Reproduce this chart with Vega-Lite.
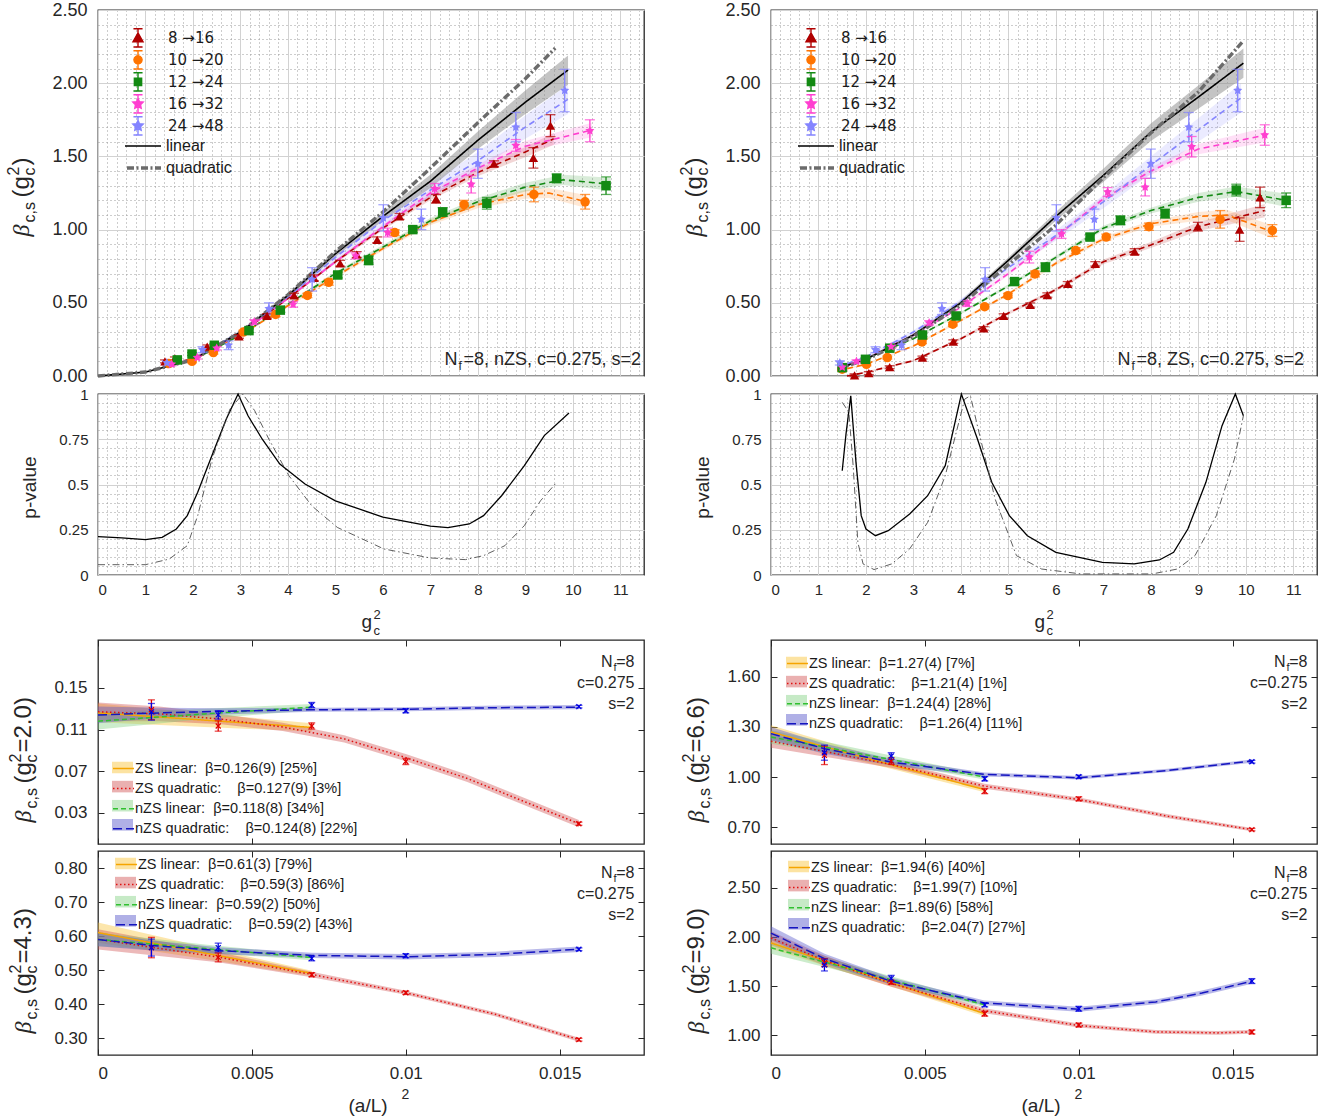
{
  "$schema": "https://vega.github.io/schema/vega-lite/v6.json",
  "padding": {"left": 4, "top": 0, "right": 5, "bottom": 5},
  "background": "white",
  "config": {
    "font": "Liberation Sans",
    "view": {"stroke": "#262626", "strokeWidth": 1.3},
    "axis": {"labelFont": "Liberation Sans", "labelFontSize": 16, "labelColor": "#262626", "titleFont": "Liberation Sans", "titleColor": "#262626", "titleFontWeight": "normal", "domain": false, "ticks": false, "tickSize": 0, "labels": false, "grid": false, "tickColor": "#262626"},
    "legend": {"labelFont": "Liberation Sans", "labelFontSize": 16, "labelColor": "#1a1a1a", "padding": 0, "labelLimit": 400}
  },
  "datasets": {
    "tl_pts": [
      {"s": "8 →16", "x": 1.41, "y": 0.10, "lo": 0.09, "hi": 0.11},
      {"s": "8 →16", "x": 1.62, "y": 0.12, "lo": 0.11, "hi": 0.13},
      {"s": "8 →16", "x": 2.30, "y": 0.20, "lo": 0.188, "hi": 0.212},
      {"s": "8 →16", "x": 2.97, "y": 0.27, "lo": 0.258, "hi": 0.282},
      {"s": "8 →16", "x": 3.56, "y": 0.41, "lo": 0.395, "hi": 0.425},
      {"s": "8 →16", "x": 4.13, "y": 0.55, "lo": 0.535, "hi": 0.565},
      {"s": "8 →16", "x": 4.55, "y": 0.67, "lo": 0.65, "hi": 0.69},
      {"s": "8 →16", "x": 5.10, "y": 0.77, "lo": 0.75, "hi": 0.79},
      {"s": "8 →16", "x": 5.45, "y": 0.83, "lo": 0.81, "hi": 0.85},
      {"s": "8 →16", "x": 5.88, "y": 0.93, "lo": 0.91, "hi": 0.95},
      {"s": "8 →16", "x": 6.35, "y": 1.09, "lo": 1.07, "hi": 1.11},
      {"s": "8 →16", "x": 7.12, "y": 1.21, "lo": 1.18, "hi": 1.24},
      {"s": "8 →16", "x": 8.34, "y": 1.45, "lo": 1.43, "hi": 1.47},
      {"s": "8 →16", "x": 9.17, "y": 1.49, "lo": 1.42, "hi": 1.56},
      {"s": "8 →16", "x": 9.53, "y": 1.71, "lo": 1.635, "hi": 1.785},
      {"s": "10 →20", "x": 1.49, "y": 0.085, "lo": 0.075, "hi": 0.095},
      {"s": "10 →20", "x": 1.98, "y": 0.10, "lo": 0.09, "hi": 0.11},
      {"s": "10 →20", "x": 2.43, "y": 0.16, "lo": 0.15, "hi": 0.17},
      {"s": "10 →20", "x": 3.06, "y": 0.30, "lo": 0.288, "hi": 0.312},
      {"s": "10 →20", "x": 3.74, "y": 0.42, "lo": 0.405, "hi": 0.435},
      {"s": "10 →20", "x": 4.41, "y": 0.55, "lo": 0.535, "hi": 0.565},
      {"s": "10 →20", "x": 4.86, "y": 0.64, "lo": 0.62, "hi": 0.66},
      {"s": "10 →20", "x": 6.25, "y": 0.98, "lo": 0.96, "hi": 1.0},
      {"s": "10 →20", "x": 7.71, "y": 1.17, "lo": 1.14, "hi": 1.2},
      {"s": "10 →20", "x": 9.18, "y": 1.24, "lo": 1.19, "hi": 1.29},
      {"s": "10 →20", "x": 10.26, "y": 1.19, "lo": 1.14, "hi": 1.24},
      {"s": "12 →24", "x": 1.67, "y": 0.11, "lo": 0.10, "hi": 0.12},
      {"s": "12 →24", "x": 1.98, "y": 0.15, "lo": 0.14, "hi": 0.16},
      {"s": "12 →24", "x": 2.45, "y": 0.21, "lo": 0.198, "hi": 0.222},
      {"s": "12 →24", "x": 3.18, "y": 0.31, "lo": 0.298, "hi": 0.322},
      {"s": "12 →24", "x": 3.84, "y": 0.45, "lo": 0.435, "hi": 0.465},
      {"s": "12 →24", "x": 5.05, "y": 0.69, "lo": 0.67, "hi": 0.71},
      {"s": "12 →24", "x": 5.70, "y": 0.79, "lo": 0.76, "hi": 0.82},
      {"s": "12 →24", "x": 6.63, "y": 1.00, "lo": 0.98, "hi": 1.02},
      {"s": "12 →24", "x": 7.26, "y": 1.12, "lo": 1.09, "hi": 1.15},
      {"s": "12 →24", "x": 8.19, "y": 1.18, "lo": 1.14, "hi": 1.22},
      {"s": "12 →24", "x": 9.66, "y": 1.35, "lo": 1.32, "hi": 1.38},
      {"s": "12 →24", "x": 10.70, "y": 1.30, "lo": 1.24, "hi": 1.36},
      {"s": "16 →32", "x": 1.55, "y": 0.08, "lo": 0.07, "hi": 0.09},
      {"s": "16 →32", "x": 2.09, "y": 0.126, "lo": 0.116, "hi": 0.136},
      {"s": "16 →32", "x": 2.50, "y": 0.19, "lo": 0.178, "hi": 0.202},
      {"s": "16 →32", "x": 3.29, "y": 0.37, "lo": 0.355, "hi": 0.385},
      {"s": "16 →32", "x": 4.11, "y": 0.49, "lo": 0.47, "hi": 0.51},
      {"s": "16 →32", "x": 5.43, "y": 0.82, "lo": 0.80, "hi": 0.84},
      {"s": "16 →32", "x": 6.10, "y": 0.98, "lo": 0.95, "hi": 1.01},
      {"s": "16 →32", "x": 7.09, "y": 1.28, "lo": 1.245, "hi": 1.315},
      {"s": "16 →32", "x": 7.86, "y": 1.31, "lo": 1.25, "hi": 1.37},
      {"s": "16 →32", "x": 8.80, "y": 1.575, "lo": 1.535, "hi": 1.615},
      {"s": "16 →32", "x": 10.36, "y": 1.675, "lo": 1.60, "hi": 1.75},
      {"s": "24 →48", "x": 1.45, "y": 0.09, "lo": 0.075, "hi": 0.105},
      {"s": "24 →48", "x": 2.20, "y": 0.18, "lo": 0.16, "hi": 0.20},
      {"s": "24 →48", "x": 2.75, "y": 0.21, "lo": 0.18, "hi": 0.24},
      {"s": "24 →48", "x": 3.60, "y": 0.46, "lo": 0.42, "hi": 0.50},
      {"s": "24 →48", "x": 4.51, "y": 0.66, "lo": 0.58, "hi": 0.74},
      {"s": "24 →48", "x": 6.01, "y": 1.08, "lo": 0.99, "hi": 1.17},
      {"s": "24 →48", "x": 6.81, "y": 1.07, "lo": 1.0, "hi": 1.14},
      {"s": "24 →48", "x": 8.00, "y": 1.45, "lo": 1.35, "hi": 1.55},
      {"s": "24 →48", "x": 8.80, "y": 1.70, "lo": 1.60, "hi": 1.80},
      {"s": "24 →48", "x": 9.83, "y": 1.95, "lo": 1.805, "hi": 2.095}
    ],
    "tl_fit": [
      {"s": "8 →16", "x": 1.4, "y": 0.07, "lo": 0.065, "hi": 0.075},
      {"s": "8 →16", "x": 2, "y": 0.12, "lo": 0.114, "hi": 0.126},
      {"s": "8 →16", "x": 3, "y": 0.29, "lo": 0.282, "hi": 0.298},
      {"s": "8 →16", "x": 4, "y": 0.53, "lo": 0.52, "hi": 0.54},
      {"s": "8 →16", "x": 5, "y": 0.78, "lo": 0.768, "hi": 0.792},
      {"s": "8 →16", "x": 6, "y": 1.01, "lo": 0.995, "hi": 1.025},
      {"s": "8 →16", "x": 7, "y": 1.22, "lo": 1.20, "hi": 1.24},
      {"s": "8 →16", "x": 8, "y": 1.39, "lo": 1.365, "hi": 1.415},
      {"s": "8 →16", "x": 9, "y": 1.53, "lo": 1.495, "hi": 1.565},
      {"s": "8 →16", "x": 9.6, "y": 1.62, "lo": 1.58, "hi": 1.66},
      {"s": "10 →20", "x": 1.5, "y": 0.07, "lo": 0.065, "hi": 0.075},
      {"s": "10 →20", "x": 2, "y": 0.11, "lo": 0.104, "hi": 0.116},
      {"s": "10 →20", "x": 3, "y": 0.28, "lo": 0.272, "hi": 0.288},
      {"s": "10 →20", "x": 4, "y": 0.48, "lo": 0.47, "hi": 0.49},
      {"s": "10 →20", "x": 5, "y": 0.68, "lo": 0.668, "hi": 0.692},
      {"s": "10 →20", "x": 6, "y": 0.87, "lo": 0.855, "hi": 0.885},
      {"s": "10 →20", "x": 7, "y": 1.05, "lo": 1.03, "hi": 1.07},
      {"s": "10 →20", "x": 8, "y": 1.17, "lo": 1.145, "hi": 1.195},
      {"s": "10 →20", "x": 9, "y": 1.24, "lo": 1.21, "hi": 1.27},
      {"s": "10 →20", "x": 9.5, "y": 1.25, "lo": 1.215, "hi": 1.285},
      {"s": "10 →20", "x": 10.3, "y": 1.19, "lo": 1.145, "hi": 1.235},
      {"s": "12 →24", "x": 1.6, "y": 0.08, "lo": 0.075, "hi": 0.085},
      {"s": "12 →24", "x": 2, "y": 0.11, "lo": 0.104, "hi": 0.116},
      {"s": "12 →24", "x": 3, "y": 0.28, "lo": 0.272, "hi": 0.288},
      {"s": "12 →24", "x": 4, "y": 0.49, "lo": 0.48, "hi": 0.50},
      {"s": "12 →24", "x": 5, "y": 0.70, "lo": 0.688, "hi": 0.712},
      {"s": "12 →24", "x": 6, "y": 0.88, "lo": 0.865, "hi": 0.895},
      {"s": "12 →24", "x": 7, "y": 1.06, "lo": 1.04, "hi": 1.08},
      {"s": "12 →24", "x": 8, "y": 1.19, "lo": 1.165, "hi": 1.215},
      {"s": "12 →24", "x": 9, "y": 1.29, "lo": 1.26, "hi": 1.32},
      {"s": "12 →24", "x": 9.8, "y": 1.34, "lo": 1.305, "hi": 1.375},
      {"s": "12 →24", "x": 10.8, "y": 1.31, "lo": 1.265, "hi": 1.355},
      {"s": "16 →32", "x": 1.5, "y": 0.07, "lo": 0.065, "hi": 0.075},
      {"s": "16 →32", "x": 2, "y": 0.115, "lo": 0.109, "hi": 0.121},
      {"s": "16 →32", "x": 3, "y": 0.29, "lo": 0.282, "hi": 0.298},
      {"s": "16 →32", "x": 4, "y": 0.53, "lo": 0.52, "hi": 0.54},
      {"s": "16 →32", "x": 5, "y": 0.78, "lo": 0.768, "hi": 0.792},
      {"s": "16 →32", "x": 6, "y": 1.02, "lo": 1.005, "hi": 1.035},
      {"s": "16 →32", "x": 7, "y": 1.25, "lo": 1.23, "hi": 1.27},
      {"s": "16 →32", "x": 8, "y": 1.42, "lo": 1.395, "hi": 1.445},
      {"s": "16 →32", "x": 9, "y": 1.57, "lo": 1.535, "hi": 1.605},
      {"s": "16 →32", "x": 10.4, "y": 1.68, "lo": 1.63, "hi": 1.73},
      {"s": "24 →48", "x": 1.4, "y": 0.07, "lo": 0.065, "hi": 0.075},
      {"s": "24 →48", "x": 2, "y": 0.115, "lo": 0.107, "hi": 0.123},
      {"s": "24 →48", "x": 3, "y": 0.30, "lo": 0.288, "hi": 0.312},
      {"s": "24 →48", "x": 4, "y": 0.54, "lo": 0.522, "hi": 0.558},
      {"s": "24 →48", "x": 5, "y": 0.81, "lo": 0.785, "hi": 0.835},
      {"s": "24 →48", "x": 6, "y": 1.06, "lo": 1.025, "hi": 1.095},
      {"s": "24 →48", "x": 7, "y": 1.27, "lo": 1.225, "hi": 1.315},
      {"s": "24 →48", "x": 8, "y": 1.47, "lo": 1.41, "hi": 1.53},
      {"s": "24 →48", "x": 9, "y": 1.70, "lo": 1.62, "hi": 1.78},
      {"s": "24 →48", "x": 9.9, "y": 1.89, "lo": 1.79, "hi": 1.99}
    ],
    "tl_cont": [
      {"k": "linear", "x": 0, "y": 0, "lo": 0, "hi": 0},
      {"k": "linear", "x": 1, "y": 0.027, "lo": 0.024, "hi": 0.03},
      {"k": "linear", "x": 2, "y": 0.11, "lo": 0.104, "hi": 0.116},
      {"k": "linear", "x": 3, "y": 0.30, "lo": 0.29, "hi": 0.31},
      {"k": "linear", "x": 4, "y": 0.55, "lo": 0.535, "hi": 0.565},
      {"k": "linear", "x": 5, "y": 0.835, "lo": 0.815, "hi": 0.855},
      {"k": "linear", "x": 6, "y": 1.09, "lo": 1.06, "hi": 1.12},
      {"k": "linear", "x": 7, "y": 1.33, "lo": 1.285, "hi": 1.375},
      {"k": "linear", "x": 8, "y": 1.61, "lo": 1.55, "hi": 1.67},
      {"k": "linear", "x": 9, "y": 1.87, "lo": 1.79, "hi": 1.95},
      {"k": "linear", "x": 9.9, "y": 2.09, "lo": 1.99, "hi": 2.19},
      {"k": "quadratic", "x": 0, "y": 0},
      {"k": "quadratic", "x": 1, "y": 0.027},
      {"k": "quadratic", "x": 2, "y": 0.11},
      {"k": "quadratic", "x": 3, "y": 0.30},
      {"k": "quadratic", "x": 4, "y": 0.555},
      {"k": "quadratic", "x": 5, "y": 0.85},
      {"k": "quadratic", "x": 6, "y": 1.12},
      {"k": "quadratic", "x": 7, "y": 1.42},
      {"k": "quadratic", "x": 8, "y": 1.73},
      {"k": "quadratic", "x": 9, "y": 2.03},
      {"k": "quadratic", "x": 9.63, "y": 2.24}
    ],
    "tr_pts": [
      {"s": "8 →16", "x": 1.76, "y": 0.005, "lo": -0.005, "hi": 0.015},
      {"s": "8 →16", "x": 2.06, "y": 0.02, "lo": 0.01, "hi": 0.03},
      {"s": "8 →16", "x": 2.50, "y": 0.06, "lo": 0.05, "hi": 0.07},
      {"s": "8 →16", "x": 3.19, "y": 0.126, "lo": 0.116, "hi": 0.136},
      {"s": "8 →16", "x": 3.84, "y": 0.235, "lo": 0.223, "hi": 0.247},
      {"s": "8 →16", "x": 4.48, "y": 0.325, "lo": 0.313, "hi": 0.337},
      {"s": "8 →16", "x": 4.90, "y": 0.41, "lo": 0.395, "hi": 0.425},
      {"s": "8 →16", "x": 5.46, "y": 0.485, "lo": 0.47, "hi": 0.50},
      {"s": "8 →16", "x": 5.82, "y": 0.553, "lo": 0.538, "hi": 0.568},
      {"s": "8 →16", "x": 6.25, "y": 0.63, "lo": 0.615, "hi": 0.645},
      {"s": "8 →16", "x": 6.83, "y": 0.766, "lo": 0.751, "hi": 0.781},
      {"s": "8 →16", "x": 7.66, "y": 0.85, "lo": 0.83, "hi": 0.87},
      {"s": "8 →16", "x": 8.99, "y": 1.02, "lo": 0.99, "hi": 1.05},
      {"s": "8 →16", "x": 9.87, "y": 1.00, "lo": 0.92, "hi": 1.08},
      {"s": "8 →16", "x": 10.30, "y": 1.22, "lo": 1.15, "hi": 1.29},
      {"s": "10 →20", "x": 1.50, "y": 0.046, "lo": 0.036, "hi": 0.056},
      {"s": "10 →20", "x": 2.01, "y": 0.08, "lo": 0.07, "hi": 0.09},
      {"s": "10 →20", "x": 2.45, "y": 0.126, "lo": 0.116, "hi": 0.136},
      {"s": "10 →20", "x": 3.18, "y": 0.233, "lo": 0.221, "hi": 0.245},
      {"s": "10 →20", "x": 3.83, "y": 0.354, "lo": 0.342, "hi": 0.366},
      {"s": "10 →20", "x": 4.50, "y": 0.473, "lo": 0.458, "hi": 0.488},
      {"s": "10 →20", "x": 4.99, "y": 0.549, "lo": 0.534, "hi": 0.564},
      {"s": "10 →20", "x": 5.56, "y": 0.697, "lo": 0.677, "hi": 0.717},
      {"s": "10 →20", "x": 6.42, "y": 0.857, "lo": 0.837, "hi": 0.877},
      {"s": "10 →20", "x": 7.06, "y": 0.949, "lo": 0.929, "hi": 0.969},
      {"s": "10 →20", "x": 7.96, "y": 1.02, "lo": 0.995, "hi": 1.045},
      {"s": "10 →20", "x": 9.46, "y": 1.07, "lo": 1.01, "hi": 1.13},
      {"s": "10 →20", "x": 10.56, "y": 0.994, "lo": 0.954, "hi": 1.034},
      {"s": "12 →24", "x": 1.50, "y": 0.057, "lo": 0.047, "hi": 0.067},
      {"s": "12 →24", "x": 1.99, "y": 0.114, "lo": 0.104, "hi": 0.124},
      {"s": "12 →24", "x": 2.50, "y": 0.19, "lo": 0.178, "hi": 0.202},
      {"s": "12 →24", "x": 3.19, "y": 0.28, "lo": 0.268, "hi": 0.292},
      {"s": "12 →24", "x": 3.90, "y": 0.41, "lo": 0.395, "hi": 0.425},
      {"s": "12 →24", "x": 5.13, "y": 0.645, "lo": 0.625, "hi": 0.665},
      {"s": "12 →24", "x": 5.78, "y": 0.743, "lo": 0.713, "hi": 0.773},
      {"s": "12 →24", "x": 6.72, "y": 0.949, "lo": 0.929, "hi": 0.969},
      {"s": "12 →24", "x": 7.36, "y": 1.063, "lo": 1.033, "hi": 1.093},
      {"s": "12 →24", "x": 8.30, "y": 1.109, "lo": 1.079, "hi": 1.139},
      {"s": "12 →24", "x": 9.80, "y": 1.27, "lo": 1.23, "hi": 1.31},
      {"s": "12 →24", "x": 10.85, "y": 1.20, "lo": 1.15, "hi": 1.25},
      {"s": "16 →32", "x": 1.50, "y": 0.06, "lo": 0.05, "hi": 0.07},
      {"s": "16 →32", "x": 1.80, "y": 0.10, "lo": 0.09, "hi": 0.11},
      {"s": "16 →32", "x": 2.53, "y": 0.20, "lo": 0.188, "hi": 0.212},
      {"s": "16 →32", "x": 3.33, "y": 0.363, "lo": 0.348, "hi": 0.378},
      {"s": "16 →32", "x": 4.14, "y": 0.495, "lo": 0.475, "hi": 0.515},
      {"s": "16 →32", "x": 5.44, "y": 0.812, "lo": 0.772, "hi": 0.852},
      {"s": "16 →32", "x": 6.12, "y": 0.97, "lo": 0.94, "hi": 1.0},
      {"s": "16 →32", "x": 7.09, "y": 1.257, "lo": 1.227, "hi": 1.287},
      {"s": "16 →32", "x": 7.88, "y": 1.29, "lo": 1.23, "hi": 1.35},
      {"s": "16 →32", "x": 8.86, "y": 1.566, "lo": 1.496, "hi": 1.636},
      {"s": "16 →32", "x": 10.40, "y": 1.646, "lo": 1.576, "hi": 1.716},
      {"s": "24 →48", "x": 1.45, "y": 0.09, "lo": 0.075, "hi": 0.105},
      {"s": "24 →48", "x": 2.20, "y": 0.18, "lo": 0.16, "hi": 0.20},
      {"s": "24 →48", "x": 2.75, "y": 0.21, "lo": 0.18, "hi": 0.24},
      {"s": "24 →48", "x": 3.60, "y": 0.46, "lo": 0.42, "hi": 0.50},
      {"s": "24 →48", "x": 4.51, "y": 0.66, "lo": 0.58, "hi": 0.74},
      {"s": "24 →48", "x": 6.01, "y": 1.08, "lo": 0.99, "hi": 1.17},
      {"s": "24 →48", "x": 6.81, "y": 1.07, "lo": 1.0, "hi": 1.14},
      {"s": "24 →48", "x": 8.00, "y": 1.45, "lo": 1.35, "hi": 1.55},
      {"s": "24 →48", "x": 8.80, "y": 1.70, "lo": 1.60, "hi": 1.80},
      {"s": "24 →48", "x": 9.83, "y": 1.95, "lo": 1.805, "hi": 2.095}
    ],
    "tr_fit": [
      {"s": "8 →16", "x": 1.6, "y": 0.0, "lo": -0.004, "hi": 0.004},
      {"s": "8 →16", "x": 2, "y": 0.025, "lo": 0.02, "hi": 0.03},
      {"s": "8 →16", "x": 3, "y": 0.105, "lo": 0.098, "hi": 0.112},
      {"s": "8 →16", "x": 4, "y": 0.255, "lo": 0.246, "hi": 0.264},
      {"s": "8 →16", "x": 5, "y": 0.43, "lo": 0.419, "hi": 0.441},
      {"s": "8 →16", "x": 6, "y": 0.59, "lo": 0.577, "hi": 0.603},
      {"s": "8 →16", "x": 7, "y": 0.78, "lo": 0.764, "hi": 0.796},
      {"s": "8 →16", "x": 8, "y": 0.895, "lo": 0.875, "hi": 0.915},
      {"s": "8 →16", "x": 9, "y": 1.02, "lo": 0.99, "hi": 1.05},
      {"s": "8 →16", "x": 10.4, "y": 1.13, "lo": 1.085, "hi": 1.175},
      {"s": "10 →20", "x": 1.4, "y": 0.035, "lo": 0.031, "hi": 0.039},
      {"s": "10 →20", "x": 2, "y": 0.08, "lo": 0.075, "hi": 0.085},
      {"s": "10 →20", "x": 3, "y": 0.205, "lo": 0.198, "hi": 0.212},
      {"s": "10 →20", "x": 4, "y": 0.38, "lo": 0.371, "hi": 0.389},
      {"s": "10 →20", "x": 5, "y": 0.56, "lo": 0.549, "hi": 0.571},
      {"s": "10 →20", "x": 6, "y": 0.77, "lo": 0.757, "hi": 0.783},
      {"s": "10 →20", "x": 7, "y": 0.935, "lo": 0.919, "hi": 0.951},
      {"s": "10 →20", "x": 8, "y": 1.04, "lo": 1.02, "hi": 1.06},
      {"s": "10 →20", "x": 9, "y": 1.09, "lo": 1.06, "hi": 1.12},
      {"s": "10 →20", "x": 9.6, "y": 1.10, "lo": 1.065, "hi": 1.135},
      {"s": "10 →20", "x": 10.6, "y": 0.98, "lo": 0.935, "hi": 1.025},
      {"s": "12 →24", "x": 1.4, "y": 0.05, "lo": 0.046, "hi": 0.054},
      {"s": "12 →24", "x": 2, "y": 0.12, "lo": 0.115, "hi": 0.125},
      {"s": "12 →24", "x": 3, "y": 0.255, "lo": 0.248, "hi": 0.262},
      {"s": "12 →24", "x": 4, "y": 0.43, "lo": 0.421, "hi": 0.439},
      {"s": "12 →24", "x": 5, "y": 0.615, "lo": 0.604, "hi": 0.626},
      {"s": "12 →24", "x": 6, "y": 0.81, "lo": 0.797, "hi": 0.823},
      {"s": "12 →24", "x": 7, "y": 1.01, "lo": 0.994, "hi": 1.026},
      {"s": "12 →24", "x": 8, "y": 1.13, "lo": 1.11, "hi": 1.15},
      {"s": "12 →24", "x": 9, "y": 1.22, "lo": 1.19, "hi": 1.25},
      {"s": "12 →24", "x": 9.8, "y": 1.26, "lo": 1.225, "hi": 1.295},
      {"s": "12 →24", "x": 10.85, "y": 1.20, "lo": 1.155, "hi": 1.245},
      {"s": "16 →32", "x": 1.4, "y": 0.05, "lo": 0.046, "hi": 0.054},
      {"s": "16 →32", "x": 2, "y": 0.12, "lo": 0.114, "hi": 0.126},
      {"s": "16 →32", "x": 3, "y": 0.28, "lo": 0.272, "hi": 0.288},
      {"s": "16 →32", "x": 4, "y": 0.47, "lo": 0.46, "hi": 0.48},
      {"s": "16 →32", "x": 5, "y": 0.70, "lo": 0.687, "hi": 0.713},
      {"s": "16 →32", "x": 6, "y": 0.95, "lo": 0.934, "hi": 0.966},
      {"s": "16 →32", "x": 7, "y": 1.21, "lo": 1.19, "hi": 1.23},
      {"s": "16 →32", "x": 8, "y": 1.40, "lo": 1.375, "hi": 1.425},
      {"s": "16 →32", "x": 9, "y": 1.55, "lo": 1.515, "hi": 1.585},
      {"s": "16 →32", "x": 10.4, "y": 1.645, "lo": 1.595, "hi": 1.695},
      {"s": "24 →48", "x": 1.4, "y": 0.06, "lo": 0.055, "hi": 0.065},
      {"s": "24 →48", "x": 2, "y": 0.13, "lo": 0.122, "hi": 0.138},
      {"s": "24 →48", "x": 3, "y": 0.30, "lo": 0.288, "hi": 0.312},
      {"s": "24 →48", "x": 4, "y": 0.51, "lo": 0.492, "hi": 0.528},
      {"s": "24 →48", "x": 5, "y": 0.74, "lo": 0.715, "hi": 0.765},
      {"s": "24 →48", "x": 6, "y": 0.96, "lo": 0.925, "hi": 0.995},
      {"s": "24 →48", "x": 7, "y": 1.19, "lo": 1.145, "hi": 1.235},
      {"s": "24 →48", "x": 8, "y": 1.44, "lo": 1.38, "hi": 1.50},
      {"s": "24 →48", "x": 9, "y": 1.68, "lo": 1.60, "hi": 1.76},
      {"s": "24 →48", "x": 9.9, "y": 1.90, "lo": 1.80, "hi": 2.0}
    ],
    "tr_cont": [
      {"k": "linear", "x": 1.4, "y": 0.05, "lo": 0.046, "hi": 0.054},
      {"k": "linear", "x": 2, "y": 0.115, "lo": 0.109, "hi": 0.121},
      {"k": "linear", "x": 3, "y": 0.28, "lo": 0.27, "hi": 0.29},
      {"k": "linear", "x": 4, "y": 0.50, "lo": 0.485, "hi": 0.515},
      {"k": "linear", "x": 5, "y": 0.79, "lo": 0.77, "hi": 0.81},
      {"k": "linear", "x": 6, "y": 1.09, "lo": 1.06, "hi": 1.12},
      {"k": "linear", "x": 7, "y": 1.37, "lo": 1.325, "hi": 1.415},
      {"k": "linear", "x": 8, "y": 1.665, "lo": 1.605, "hi": 1.725},
      {"k": "linear", "x": 9, "y": 1.905, "lo": 1.825, "hi": 1.985},
      {"k": "linear", "x": 9.95, "y": 2.137, "lo": 2.037, "hi": 2.237},
      {"k": "quadratic", "x": 1.4, "y": 0.05},
      {"k": "quadratic", "x": 2, "y": 0.11},
      {"k": "quadratic", "x": 3, "y": 0.27},
      {"k": "quadratic", "x": 4, "y": 0.485},
      {"k": "quadratic", "x": 5, "y": 0.76},
      {"k": "quadratic", "x": 6, "y": 1.03},
      {"k": "quadratic", "x": 7, "y": 1.355},
      {"k": "quadratic", "x": 8, "y": 1.66},
      {"k": "quadratic", "x": 9, "y": 1.94},
      {"k": "quadratic", "x": 9.95, "y": 2.29}
    ],
    "pl": [
      {"k": "linear", "x": 0, "p": 0.212}, {"k": "linear", "x": 0.5, "p": 0.205}, {"k": "linear", "x": 1, "p": 0.195},
      {"k": "linear", "x": 1.35, "p": 0.208}, {"k": "linear", "x": 1.65, "p": 0.254}, {"k": "linear", "x": 1.88, "p": 0.328},
      {"k": "linear", "x": 2.1, "p": 0.457}, {"k": "linear", "x": 2.4, "p": 0.66}, {"k": "linear", "x": 2.7, "p": 0.86},
      {"k": "linear", "x": 2.95, "p": 1.0}, {"k": "linear", "x": 3.16, "p": 0.88}, {"k": "linear", "x": 3.46, "p": 0.75},
      {"k": "linear", "x": 3.83, "p": 0.613}, {"k": "linear", "x": 4.36, "p": 0.503}, {"k": "linear", "x": 5, "p": 0.41},
      {"k": "linear", "x": 6, "p": 0.32}, {"k": "linear", "x": 7, "p": 0.27}, {"k": "linear", "x": 7.37, "p": 0.262},
      {"k": "linear", "x": 7.82, "p": 0.282}, {"k": "linear", "x": 8.12, "p": 0.328}, {"k": "linear", "x": 8.5, "p": 0.438},
      {"k": "linear", "x": 8.98, "p": 0.604}, {"k": "linear", "x": 9.4, "p": 0.77}, {"k": "linear", "x": 9.92, "p": 0.895},
      {"k": "quadratic", "x": 0, "p": 0.057}, {"k": "quadratic", "x": 1, "p": 0.057}, {"k": "quadratic", "x": 1.5, "p": 0.088},
      {"k": "quadratic", "x": 1.88, "p": 0.162}, {"k": "quadratic", "x": 2.1, "p": 0.328}, {"k": "quadratic", "x": 2.4, "p": 0.64},
      {"k": "quadratic", "x": 2.78, "p": 0.917}, {"k": "quadratic", "x": 3.05, "p": 1.0}, {"k": "quadratic", "x": 3.3, "p": 0.908},
      {"k": "quadratic", "x": 3.6, "p": 0.75}, {"k": "quadratic", "x": 4.02, "p": 0.549}, {"k": "quadratic", "x": 4.5, "p": 0.383},
      {"k": "quadratic", "x": 5.04, "p": 0.263}, {"k": "quadratic", "x": 6.02, "p": 0.144}, {"k": "quadratic", "x": 7, "p": 0.094},
      {"k": "quadratic", "x": 7.74, "p": 0.085}, {"k": "quadratic", "x": 8.12, "p": 0.107}, {"k": "quadratic", "x": 8.57, "p": 0.162},
      {"k": "quadratic", "x": 8.98, "p": 0.273}, {"k": "quadratic", "x": 9.32, "p": 0.41}, {"k": "quadratic", "x": 9.66, "p": 0.512}
    ],
    "pr": [
      {"k": "linear", "x": 1.5, "p": 0.576}, {"k": "linear", "x": 1.58, "p": 0.78}, {"k": "linear", "x": 1.68, "p": 0.99},
      {"k": "linear", "x": 1.79, "p": 0.622}, {"k": "linear", "x": 1.9, "p": 0.328}, {"k": "linear", "x": 2.0, "p": 0.254},
      {"k": "linear", "x": 2.2, "p": 0.217}, {"k": "linear", "x": 2.47, "p": 0.245}, {"k": "linear", "x": 2.92, "p": 0.337},
      {"k": "linear", "x": 3.3, "p": 0.438}, {"k": "linear", "x": 3.67, "p": 0.604}, {"k": "linear", "x": 4.01, "p": 1.0},
      {"k": "linear", "x": 4.35, "p": 0.75}, {"k": "linear", "x": 4.65, "p": 0.512}, {"k": "linear", "x": 5.02, "p": 0.328},
      {"k": "linear", "x": 5.4, "p": 0.217}, {"k": "linear", "x": 6.0, "p": 0.125}, {"k": "linear", "x": 6.98, "p": 0.07},
      {"k": "linear", "x": 7.65, "p": 0.061}, {"k": "linear", "x": 8.18, "p": 0.083}, {"k": "linear", "x": 8.48, "p": 0.125},
      {"k": "linear", "x": 8.78, "p": 0.254}, {"k": "linear", "x": 9.16, "p": 0.512}, {"k": "linear", "x": 9.5, "p": 0.825},
      {"k": "linear", "x": 9.78, "p": 1.0}, {"k": "linear", "x": 9.95, "p": 0.88},
      {"k": "quadratic", "x": 1.5, "p": 0.954}, {"k": "quadratic", "x": 1.64, "p": 0.9}, {"k": "quadratic", "x": 1.73, "p": 0.604},
      {"k": "quadratic", "x": 1.83, "p": 0.18}, {"k": "quadratic", "x": 1.94, "p": 0.061}, {"k": "quadratic", "x": 2.17, "p": 0.03},
      {"k": "quadratic", "x": 2.54, "p": 0.061}, {"k": "quadratic", "x": 2.92, "p": 0.144}, {"k": "quadratic", "x": 3.3, "p": 0.291},
      {"k": "quadratic", "x": 3.67, "p": 0.549}, {"k": "quadratic", "x": 4.08, "p": 0.972}, {"k": "quadratic", "x": 4.2, "p": 0.99},
      {"k": "quadratic", "x": 4.38, "p": 0.788}, {"k": "quadratic", "x": 4.72, "p": 0.42}, {"k": "quadratic", "x": 5.17, "p": 0.107},
      {"k": "quadratic", "x": 5.7, "p": 0.033}, {"k": "quadratic", "x": 6.53, "p": 0.006}, {"k": "quadratic", "x": 8.03, "p": 0.006},
      {"k": "quadratic", "x": 8.56, "p": 0.033}, {"k": "quadratic", "x": 8.93, "p": 0.107}, {"k": "quadratic", "x": 9.38, "p": 0.328},
      {"k": "quadratic", "x": 9.76, "p": 0.64}, {"k": "quadratic", "x": 9.95, "p": 0.88}
    ],
    "b20_pts": [
      {"f": "ZS", "x": 0.001736, "y": 0.129, "lo": 0.1195, "hi": 0.1385},
      {"f": "ZS", "x": 0.003906, "y": 0.1134, "lo": 0.1084, "hi": 0.1184},
      {"f": "ZS", "x": 0.006944, "y": 0.1134, "lo": 0.1104, "hi": 0.1164},
      {"f": "ZS", "x": 0.01, "y": 0.0793, "lo": 0.0763, "hi": 0.0823},
      {"f": "ZS", "x": 0.015625, "y": 0.0195, "lo": 0.018, "hi": 0.021},
      {"f": "nZS", "x": 0.001736, "y": 0.127, "lo": 0.119, "hi": 0.135},
      {"f": "nZS", "x": 0.003906, "y": 0.124, "lo": 0.12, "hi": 0.128},
      {"f": "nZS", "x": 0.006944, "y": 0.1335, "lo": 0.131, "hi": 0.136},
      {"f": "nZS", "x": 0.01, "y": 0.128, "lo": 0.126, "hi": 0.13},
      {"f": "nZS", "x": 0.015625, "y": 0.132, "lo": 0.1308, "hi": 0.1332}
    ],
    "b20_fit": [
      {"f": "ZS linear:\u00a0 β=0.126(9) [25%]", "x": 0, "y": 0.126, "lo": 0.117, "hi": 0.135},
      {"f": "ZS linear:\u00a0 β=0.126(9) [25%]", "x": 0.00347, "y": 0.119, "lo": 0.1125, "hi": 0.1255},
      {"f": "ZS linear:\u00a0 β=0.126(9) [25%]", "x": 0.006944, "y": 0.112, "lo": 0.108, "hi": 0.116},
      {"f": "ZS quadratic:\u00a0\u00a0\u00a0 β=0.127(9) [3%]", "x": 0, "y": 0.127, "lo": 0.118, "hi": 0.136},
      {"f": "ZS quadratic:\u00a0\u00a0\u00a0 β=0.127(9) [3%]", "x": 0.002, "y": 0.125, "lo": 0.118, "hi": 0.132},
      {"f": "ZS quadratic:\u00a0\u00a0\u00a0 β=0.127(9) [3%]", "x": 0.004, "y": 0.12, "lo": 0.115, "hi": 0.125},
      {"f": "ZS quadratic:\u00a0\u00a0\u00a0 β=0.127(9) [3%]", "x": 0.006, "y": 0.1125, "lo": 0.1085, "hi": 0.1165},
      {"f": "ZS quadratic:\u00a0\u00a0\u00a0 β=0.127(9) [3%]", "x": 0.008, "y": 0.101, "lo": 0.0975, "hi": 0.1045},
      {"f": "ZS quadratic:\u00a0\u00a0\u00a0 β=0.127(9) [3%]", "x": 0.01, "y": 0.083, "lo": 0.0795, "hi": 0.0865},
      {"f": "ZS quadratic:\u00a0\u00a0\u00a0 β=0.127(9) [3%]", "x": 0.012, "y": 0.063, "lo": 0.0595, "hi": 0.0665},
      {"f": "ZS quadratic:\u00a0\u00a0\u00a0 β=0.127(9) [3%]", "x": 0.014, "y": 0.039, "lo": 0.0355, "hi": 0.0425},
      {"f": "ZS quadratic:\u00a0\u00a0\u00a0 β=0.127(9) [3%]", "x": 0.015625, "y": 0.0195, "lo": 0.016, "hi": 0.023},
      {"f": "nZS linear:\u00a0 β=0.118(8) [34%]", "x": 0, "y": 0.118, "lo": 0.11, "hi": 0.126},
      {"f": "nZS linear:\u00a0 β=0.118(8) [34%]", "x": 0.00347, "y": 0.125, "lo": 0.12, "hi": 0.13},
      {"f": "nZS linear:\u00a0 β=0.118(8) [34%]", "x": 0.006944, "y": 0.1315, "lo": 0.1285, "hi": 0.1345},
      {"f": "nZS quadratic:\u00a0\u00a0\u00a0 β=0.124(8) [22%]", "x": 0, "y": 0.124, "lo": 0.116, "hi": 0.132},
      {"f": "nZS quadratic:\u00a0\u00a0\u00a0 β=0.124(8) [22%]", "x": 0.002, "y": 0.126, "lo": 0.121, "hi": 0.131},
      {"f": "nZS quadratic:\u00a0\u00a0\u00a0 β=0.124(8) [22%]", "x": 0.004, "y": 0.1275, "lo": 0.1245, "hi": 0.1305},
      {"f": "nZS quadratic:\u00a0\u00a0\u00a0 β=0.124(8) [22%]", "x": 0.007, "y": 0.129, "lo": 0.127, "hi": 0.131},
      {"f": "nZS quadratic:\u00a0\u00a0\u00a0 β=0.124(8) [22%]", "x": 0.01, "y": 0.1295, "lo": 0.1275, "hi": 0.1315},
      {"f": "nZS quadratic:\u00a0\u00a0\u00a0 β=0.124(8) [22%]", "x": 0.013, "y": 0.131, "lo": 0.129, "hi": 0.133},
      {"f": "nZS quadratic:\u00a0\u00a0\u00a0 β=0.124(8) [22%]", "x": 0.015625, "y": 0.1315, "lo": 0.1295, "hi": 0.1335}
    ],
    "b66_pts": [
      {"f": "ZS", "x": 0.001736, "y": 1.13, "lo": 1.075, "hi": 1.185},
      {"f": "ZS", "x": 0.003906, "y": 1.096, "lo": 1.076, "hi": 1.116},
      {"f": "ZS", "x": 0.006944, "y": 0.916, "lo": 0.901, "hi": 0.931},
      {"f": "ZS", "x": 0.01, "y": 0.87, "lo": 0.858, "hi": 0.882},
      {"f": "ZS", "x": 0.015625, "y": 0.686, "lo": 0.679, "hi": 0.693},
      {"f": "nZS", "x": 0.001736, "y": 1.146, "lo": 1.101, "hi": 1.191},
      {"f": "nZS", "x": 0.003906, "y": 1.126, "lo": 1.106, "hi": 1.146},
      {"f": "nZS", "x": 0.006944, "y": 0.99, "lo": 0.977, "hi": 1.003},
      {"f": "nZS", "x": 0.01, "y": 1.002, "lo": 0.992, "hi": 1.012},
      {"f": "nZS", "x": 0.015625, "y": 1.092, "lo": 1.084, "hi": 1.1}
    ],
    "b66_fit": [
      {"f": "ZS linear:\u00a0 β=1.27(4) [7%]", "x": 0, "y": 1.27, "lo": 1.23, "hi": 1.31},
      {"f": "ZS linear:\u00a0 β=1.27(4) [7%]", "x": 0.00347, "y": 1.095, "lo": 1.07, "hi": 1.12},
      {"f": "ZS linear:\u00a0 β=1.27(4) [7%]", "x": 0.006944, "y": 0.925, "lo": 0.91, "hi": 0.94},
      {"f": "ZS quadratic:\u00a0\u00a0\u00a0 β=1.21(4) [1%]", "x": 0, "y": 1.215, "lo": 1.175, "hi": 1.255},
      {"f": "ZS quadratic:\u00a0\u00a0\u00a0 β=1.21(4) [1%]", "x": 0.0039, "y": 1.076, "lo": 1.056, "hi": 1.096},
      {"f": "ZS quadratic:\u00a0\u00a0\u00a0 β=1.21(4) [1%]", "x": 0.00694, "y": 0.946, "lo": 0.931, "hi": 0.961},
      {"f": "ZS quadratic:\u00a0\u00a0\u00a0 β=1.21(4) [1%]", "x": 0.01, "y": 0.866, "lo": 0.854, "hi": 0.878},
      {"f": "ZS quadratic:\u00a0\u00a0\u00a0 β=1.21(4) [1%]", "x": 0.0129, "y": 0.766, "lo": 0.754, "hi": 0.778},
      {"f": "ZS quadratic:\u00a0\u00a0\u00a0 β=1.21(4) [1%]", "x": 0.015625, "y": 0.686, "lo": 0.676, "hi": 0.696},
      {"f": "nZS linear:\u00a0 β=1.24(4) [28%]", "x": 0, "y": 1.24, "lo": 1.2, "hi": 1.28},
      {"f": "nZS linear:\u00a0 β=1.24(4) [28%]", "x": 0.00347, "y": 1.12, "lo": 1.095, "hi": 1.145},
      {"f": "nZS linear:\u00a0 β=1.24(4) [28%]", "x": 0.006944, "y": 1.0, "lo": 0.985, "hi": 1.015},
      {"f": "nZS quadratic:\u00a0\u00a0\u00a0 β=1.26(4) [11%]", "x": 0, "y": 1.26, "lo": 1.22, "hi": 1.3},
      {"f": "nZS quadratic:\u00a0\u00a0\u00a0 β=1.26(4) [11%]", "x": 0.00174, "y": 1.17, "lo": 1.14, "hi": 1.2},
      {"f": "nZS quadratic:\u00a0\u00a0\u00a0 β=1.26(4) [11%]", "x": 0.0039, "y": 1.09, "lo": 1.07, "hi": 1.11},
      {"f": "nZS quadratic:\u00a0\u00a0\u00a0 β=1.26(4) [11%]", "x": 0.00694, "y": 1.016, "lo": 1.004, "hi": 1.028},
      {"f": "nZS quadratic:\u00a0\u00a0\u00a0 β=1.26(4) [11%]", "x": 0.01, "y": 0.996, "lo": 0.986, "hi": 1.006},
      {"f": "nZS quadratic:\u00a0\u00a0\u00a0 β=1.26(4) [11%]", "x": 0.0129, "y": 1.04, "lo": 1.03, "hi": 1.05},
      {"f": "nZS quadratic:\u00a0\u00a0\u00a0 β=1.26(4) [11%]", "x": 0.015625, "y": 1.096, "lo": 1.086, "hi": 1.106}
    ],
    "b43_pts": [
      {"f": "ZS", "x": 0.001736, "y": 0.566, "lo": 0.536, "hi": 0.596},
      {"f": "ZS", "x": 0.003906, "y": 0.537, "lo": 0.524, "hi": 0.55},
      {"f": "ZS", "x": 0.006944, "y": 0.486, "lo": 0.48, "hi": 0.492},
      {"f": "ZS", "x": 0.01, "y": 0.433, "lo": 0.428, "hi": 0.438},
      {"f": "ZS", "x": 0.015625, "y": 0.295, "lo": 0.291, "hi": 0.299},
      {"f": "nZS", "x": 0.001736, "y": 0.566, "lo": 0.541, "hi": 0.591},
      {"f": "nZS", "x": 0.003906, "y": 0.566, "lo": 0.553, "hi": 0.579},
      {"f": "nZS", "x": 0.006944, "y": 0.534, "lo": 0.527, "hi": 0.541},
      {"f": "nZS", "x": 0.01, "y": 0.542, "lo": 0.536, "hi": 0.548},
      {"f": "nZS", "x": 0.015625, "y": 0.561, "lo": 0.557, "hi": 0.565}
    ],
    "b43_fit": [
      {"f": "ZS linear:\u00a0 β=0.61(3) [79%]", "x": 0, "y": 0.61, "lo": 0.58, "hi": 0.64},
      {"f": "ZS linear:\u00a0 β=0.61(3) [79%]", "x": 0.00347, "y": 0.55, "lo": 0.532, "hi": 0.568},
      {"f": "ZS linear:\u00a0 β=0.61(3) [79%]", "x": 0.006944, "y": 0.49, "lo": 0.482, "hi": 0.498},
      {"f": "ZS quadratic:\u00a0\u00a0\u00a0 β=0.59(3) [86%]", "x": 0, "y": 0.59, "lo": 0.56, "hi": 0.62},
      {"f": "ZS quadratic:\u00a0\u00a0\u00a0 β=0.59(3) [86%]", "x": 0.0039, "y": 0.538, "lo": 0.523, "hi": 0.553},
      {"f": "ZS quadratic:\u00a0\u00a0\u00a0 β=0.59(3) [86%]", "x": 0.00694, "y": 0.487, "lo": 0.479, "hi": 0.495},
      {"f": "ZS quadratic:\u00a0\u00a0\u00a0 β=0.59(3) [86%]", "x": 0.01, "y": 0.433, "lo": 0.427, "hi": 0.439},
      {"f": "ZS quadratic:\u00a0\u00a0\u00a0 β=0.59(3) [86%]", "x": 0.0129, "y": 0.37, "lo": 0.364, "hi": 0.376},
      {"f": "ZS quadratic:\u00a0\u00a0\u00a0 β=0.59(3) [86%]", "x": 0.015625, "y": 0.295, "lo": 0.289, "hi": 0.301},
      {"f": "nZS linear:\u00a0 β=0.59(2) [50%]", "x": 0, "y": 0.59, "lo": 0.57, "hi": 0.61},
      {"f": "nZS linear:\u00a0 β=0.59(2) [50%]", "x": 0.00347, "y": 0.563, "lo": 0.551, "hi": 0.575},
      {"f": "nZS linear:\u00a0 β=0.59(2) [50%]", "x": 0.006944, "y": 0.537, "lo": 0.529, "hi": 0.545},
      {"f": "nZS quadratic:\u00a0\u00a0\u00a0 β=0.59(2) [43%]", "x": 0, "y": 0.59, "lo": 0.57, "hi": 0.61},
      {"f": "nZS quadratic:\u00a0\u00a0\u00a0 β=0.59(2) [43%]", "x": 0.00174, "y": 0.572, "lo": 0.557, "hi": 0.587},
      {"f": "nZS quadratic:\u00a0\u00a0\u00a0 β=0.59(2) [43%]", "x": 0.0039, "y": 0.557, "lo": 0.547, "hi": 0.567},
      {"f": "nZS quadratic:\u00a0\u00a0\u00a0 β=0.59(2) [43%]", "x": 0.00694, "y": 0.543, "lo": 0.535, "hi": 0.551},
      {"f": "nZS quadratic:\u00a0\u00a0\u00a0 β=0.59(2) [43%]", "x": 0.01, "y": 0.539, "lo": 0.531, "hi": 0.547},
      {"f": "nZS quadratic:\u00a0\u00a0\u00a0 β=0.59(2) [43%]", "x": 0.0129, "y": 0.546, "lo": 0.538, "hi": 0.554},
      {"f": "nZS quadratic:\u00a0\u00a0\u00a0 β=0.59(2) [43%]", "x": 0.015625, "y": 0.561, "lo": 0.553, "hi": 0.569}
    ],
    "b90_pts": [
      {"f": "ZS", "x": 0.001736, "y": 1.74, "lo": 1.70, "hi": 1.78},
      {"f": "ZS", "x": 0.003906, "y": 1.54, "lo": 1.52, "hi": 1.56},
      {"f": "ZS", "x": 0.006944, "y": 1.22, "lo": 1.195, "hi": 1.245},
      {"f": "ZS", "x": 0.01, "y": 1.105, "lo": 1.085, "hi": 1.125},
      {"f": "ZS", "x": 0.015625, "y": 1.034, "lo": 1.014, "hi": 1.054},
      {"f": "nZS", "x": 0.001736, "y": 1.715, "lo": 1.655, "hi": 1.775},
      {"f": "nZS", "x": 0.003906, "y": 1.58, "lo": 1.55, "hi": 1.61},
      {"f": "nZS", "x": 0.006944, "y": 1.31, "lo": 1.29, "hi": 1.33},
      {"f": "nZS", "x": 0.01, "y": 1.27, "lo": 1.245, "hi": 1.295},
      {"f": "nZS", "x": 0.015625, "y": 1.552, "lo": 1.527, "hi": 1.577}
    ],
    "b90_fit": [
      {"f": "ZS linear:\u00a0 β=1.94(6) [40%]", "x": 0, "y": 1.94, "lo": 1.88, "hi": 2.0},
      {"f": "ZS linear:\u00a0 β=1.94(6) [40%]", "x": 0.00347, "y": 1.58, "lo": 1.54, "hi": 1.62},
      {"f": "ZS linear:\u00a0 β=1.94(6) [40%]", "x": 0.006944, "y": 1.22, "lo": 1.195, "hi": 1.245},
      {"f": "ZS quadratic:\u00a0\u00a0\u00a0 β=1.99(7) [10%]", "x": 0, "y": 1.99, "lo": 1.92, "hi": 2.06},
      {"f": "ZS quadratic:\u00a0\u00a0\u00a0 β=1.99(7) [10%]", "x": 0.00174, "y": 1.76, "lo": 1.71, "hi": 1.81},
      {"f": "ZS quadratic:\u00a0\u00a0\u00a0 β=1.99(7) [10%]", "x": 0.0039, "y": 1.53, "lo": 1.495, "hi": 1.565},
      {"f": "ZS quadratic:\u00a0\u00a0\u00a0 β=1.99(7) [10%]", "x": 0.00694, "y": 1.25, "lo": 1.225, "hi": 1.275},
      {"f": "ZS quadratic:\u00a0\u00a0\u00a0 β=1.99(7) [10%]", "x": 0.01, "y": 1.1, "lo": 1.08, "hi": 1.12},
      {"f": "ZS quadratic:\u00a0\u00a0\u00a0 β=1.99(7) [10%]", "x": 0.0125, "y": 1.035, "lo": 1.015, "hi": 1.055},
      {"f": "ZS quadratic:\u00a0\u00a0\u00a0 β=1.99(7) [10%]", "x": 0.0145, "y": 1.025, "lo": 1.005, "hi": 1.045},
      {"f": "ZS quadratic:\u00a0\u00a0\u00a0 β=1.99(7) [10%]", "x": 0.015625, "y": 1.035, "lo": 1.015, "hi": 1.055},
      {"f": "nZS linear:\u00a0 β=1.89(6) [58%]", "x": 0, "y": 1.89, "lo": 1.83, "hi": 1.95},
      {"f": "nZS linear:\u00a0 β=1.89(6) [58%]", "x": 0.00347, "y": 1.6, "lo": 1.56, "hi": 1.64},
      {"f": "nZS linear:\u00a0 β=1.89(6) [58%]", "x": 0.006944, "y": 1.31, "lo": 1.285, "hi": 1.335},
      {"f": "nZS quadratic:\u00a0\u00a0\u00a0 β=2.04(7) [27%]", "x": 0, "y": 2.04, "lo": 1.97, "hi": 2.11},
      {"f": "nZS quadratic:\u00a0\u00a0\u00a0 β=2.04(7) [27%]", "x": 0.00174, "y": 1.78, "lo": 1.73, "hi": 1.83},
      {"f": "nZS quadratic:\u00a0\u00a0\u00a0 β=2.04(7) [27%]", "x": 0.0039, "y": 1.55, "lo": 1.515, "hi": 1.585},
      {"f": "nZS quadratic:\u00a0\u00a0\u00a0 β=2.04(7) [27%]", "x": 0.00694, "y": 1.33, "lo": 1.305, "hi": 1.355},
      {"f": "nZS quadratic:\u00a0\u00a0\u00a0 β=2.04(7) [27%]", "x": 0.01, "y": 1.265, "lo": 1.24, "hi": 1.29},
      {"f": "nZS quadratic:\u00a0\u00a0\u00a0 β=2.04(7) [27%]", "x": 0.0125, "y": 1.34, "lo": 1.315, "hi": 1.365},
      {"f": "nZS quadratic:\u00a0\u00a0\u00a0 β=2.04(7) [27%]", "x": 0.014, "y": 1.43, "lo": 1.405, "hi": 1.455},
      {"f": "nZS quadratic:\u00a0\u00a0\u00a0 β=2.04(7) [27%]", "x": 0.015625, "y": 1.55, "lo": 1.525, "hi": 1.575}
    ]
  },
  "spacing": 0,
  "resolve": {"scale": {"x": "independent", "y": "independent", "color": "independent", "fill": "independent", "stroke": "independent", "strokeDash": "independent", "strokeWidth": "independent", "shape": "independent"}},
  "vconcat": [
    {
      "spacing": 0,
      "resolve": {"scale": {"x": "independent", "y": "independent", "color": "independent", "fill": "independent", "stroke": "independent", "strokeDash": "independent", "strokeWidth": "independent", "shape": "independent"}},
      "vconcat": [
        {
          "bounds": "flush",
          "spacing": 127,
          "resolve": {"scale": {"x": "independent", "y": "independent", "color": "independent", "fill": "independent", "stroke": "independent", "strokeDash": "independent", "strokeWidth": "independent", "shape": "independent"}},
          "hconcat": [
            {
              "width": 546, "height": 366,
              "resolve": {"scale": {"color": "independent", "fill": "independent", "stroke": "independent", "strokeDash": "independent", "strokeWidth": "independent", "shape": "independent"}, "axis": {"x": "independent", "y": "independent"}},
              "layer": [
                {"data": {"name": "tl_fit"}, "mark": {"type": "area", "opacity": 0.16},
                 "encoding": {
                  "x": {"field": "x", "type": "quantitative", "scale": {"domain": [0, 11.5], "nice": false, "zero": false}, "axis": {"orient": "bottom", "values": [0,1,2,3,4,5,6,7,8,9,10,11], "grid": true, "gridColor": "#d2d2d2", "title": null}},
                  "y": {"field": "lo", "type": "quantitative", "scale": {"domain": [0, 2.5], "nice": false}, "axis": {"orient": "left", "values": [0,0.5,1,1.5,2,2.5], "format": ".2f", "labels": true, "labelFontSize": 18, "labelPadding": 11, "grid": true, "gridColor": "#d2d2d2", "title": "β", "titleFont": "Liberation Serif", "titleFontStyle": "italic", "titleFontSize": 24, "titleX": -70, "titleY": 226, "titleAngle": -90, "titleAlign": "left", "titleBaseline": "alphabetic"}},
                  "y2": {"field": "hi"},
                  "color": {"field": "s", "type": "nominal", "scale": {"domain": ["8 →16","10 →20","12 →24","16 →32","24 →48"], "range": ["#b00000","#ff7400","#138a13","#ff3fd0","#8484ff"]}, "legend": null}}},
                {"data": {"name": "tl_cont"}, "transform": [{"filter": "datum.k == 'linear'"}], "mark": {"type": "area", "color": "#8a8a8a", "opacity": 0.5},
                 "encoding": {
                  "x": {"field": "x", "type": "quantitative", "scale": {"domain": [0, 11.5], "nice": false, "zero": false}, "axis": {"orient": "bottom", "values": [0.2,0.4,0.6,0.8,1.2,1.4,1.6,1.8,2.2,2.4,2.6,2.8,3.2,3.4,3.6,3.8,4.2,4.4,4.6,4.8,5.2,5.4,5.6,5.8,6.2,6.4,6.6,6.8,7.2,7.4,7.6,7.8,8.2,8.4,8.6,8.8,9.2,9.4,9.6,9.8,10.2,10.4,10.6,10.8,11.2,11.4], "grid": true, "gridDash": [1, 3], "gridColor": "#9a9a9a", "title": null}},
                  "y": {"field": "lo", "type": "quantitative", "scale": {"domain": [0, 2.5], "nice": false}, "axis": {"orient": "left", "values": [0.1,0.2,0.3,0.4,0.6,0.7,0.8,0.9,1.1,1.2,1.3,1.4,1.6,1.7,1.8,1.9,2.1,2.2,2.3,2.4], "grid": true, "gridDash": [1, 3], "gridColor": "#9a9a9a", "title": null}},
                  "y2": {"field": "hi"}}},
                {"data": {"name": "tl_fit"}, "mark": {"type": "line", "strokeDash": [6, 4], "strokeWidth": 1.6},
                 "encoding": {
                  "x": {"field": "x", "type": "quantitative", "scale": {"domain": [0, 11.5], "nice": false, "zero": false}, "axis": {"orient": "bottom", "title": "N", "titleFontSize": 18, "titleX": 346, "titleY": -12, "titleAngle": 0, "titleAlign": "left", "titleBaseline": "alphabetic"}},
                  "y": {"field": "y", "type": "quantitative", "scale": {"domain": [0, 2.5], "nice": false}, "axis": {"orient": "left", "title": "c,s", "titleFontSize": 16, "titleX": -64, "titleY": 212, "titleAngle": -90, "titleAlign": "left", "titleBaseline": "alphabetic"}},
                  "color": {"field": "s", "type": "nominal", "scale": {"domain": ["8 →16","10 →20","12 →24","16 →32","24 →48"], "range": ["#b00000","#ff7400","#138a13","#ff3fd0","#8484ff"]}, "legend": null}}},
                {"data": {"name": "tl_cont"}, "mark": {"type": "line"},
                 "encoding": {
                  "x": {"field": "x", "type": "quantitative", "scale": {"domain": [0, 11.5], "nice": false, "zero": false}, "axis": {"orient": "bottom", "title": "f", "titleFontSize": 12, "titleX": 360, "titleY": -7, "titleAngle": 0, "titleAlign": "left", "titleBaseline": "alphabetic"}},
                  "y": {"field": "y", "type": "quantitative", "scale": {"domain": [0, 2.5], "nice": false}, "axis": {"orient": "left", "title": "(g", "titleFontSize": 24, "titleX": -70, "titleY": 187, "titleAngle": -90, "titleAlign": "left", "titleBaseline": "alphabetic"}},
                  "stroke": {"field": "k", "type": "nominal", "scale": {"domain": ["linear", "quadratic"], "range": ["#000000", "#6b6b6b"]}, "legend": {"orient": "none", "legendX": 27, "legendY": 125, "symbolType": "M-2.4,0H2.4", "symbolSize": 400, "labelOffset": 17, "clipHeight": 22, "rowPadding": 0, "title": null}},
                  "strokeDash": {"field": "k", "type": "nominal", "scale": {"domain": ["linear", "quadratic"], "range": [[1, 0], [7, 2.5, 2, 2.5]]}},
                  "strokeWidth": {"field": "k", "type": "nominal", "scale": {"domain": ["linear", "quadratic"], "range": [1.6, 3.4]}}}},
                {"data": {"name": "tl_pts"}, "mark": {"type": "rule", "strokeWidth": 1.3},
                 "encoding": {
                  "x": {"field": "x", "type": "quantitative", "scale": {"domain": [0, 11.5], "nice": false, "zero": false}, "axis": {"orient": "bottom", "title": "=8, nZS, c=0.275, s=2", "titleFontSize": 18, "titleX": 365, "titleY": -12, "titleAngle": 0, "titleAlign": "left", "titleBaseline": "alphabetic"}},
                  "y": {"field": "lo", "type": "quantitative", "scale": {"domain": [0, 2.5], "nice": false}, "axis": {"orient": "left", "title": "2", "titleFontSize": 16, "titleX": -80, "titleY": 165, "titleAngle": -90, "titleAlign": "left", "titleBaseline": "alphabetic"}},
                  "y2": {"field": "hi"},
                  "color": {"field": "s", "type": "nominal", "scale": {"domain": ["8 →16","10 →20","12 →24","16 →32","24 →48"], "range": ["#b00000","#ff7400","#138a13","#ff3fd0","#8484ff"]}, "legend": null}}},
                {"data": {"name": "tl_pts"}, "mark": {"type": "tick", "orient": "horizontal", "size": 10, "thickness": 1.3},
                 "encoding": {
                  "x": {"field": "x", "type": "quantitative", "scale": {"domain": [0, 11.5], "nice": false, "zero": false}, "axis": null},
                  "y": {"field": "lo", "type": "quantitative", "scale": {"domain": [0, 2.5], "nice": false}, "axis": {"orient": "left", "title": "c", "titleFontSize": 16, "titleX": -64, "titleY": 165, "titleAngle": -90, "titleAlign": "left", "titleBaseline": "alphabetic"}},
                  "color": {"field": "s", "type": "nominal", "scale": {"domain": ["8 →16","10 →20","12 →24","16 →32","24 →48"], "range": ["#b00000","#ff7400","#138a13","#ff3fd0","#8484ff"]}, "legend": null}}},
                {"data": {"name": "tl_pts"}, "mark": {"type": "tick", "orient": "horizontal", "size": 10, "thickness": 1.3},
                 "encoding": {
                  "x": {"field": "x", "type": "quantitative", "scale": {"domain": [0, 11.5], "nice": false, "zero": false}, "axis": null},
                  "y": {"field": "hi", "type": "quantitative", "scale": {"domain": [0, 2.5], "nice": false}, "axis": {"orient": "left", "title": ")", "titleFontSize": 24, "titleX": -70, "titleY": 155, "titleAngle": -90, "titleAlign": "left", "titleBaseline": "alphabetic"}},
                  "color": {"field": "s", "type": "nominal", "scale": {"domain": ["8 →16","10 →20","12 →24","16 →32","24 →48"], "range": ["#b00000","#ff7400","#138a13","#ff3fd0","#8484ff"]}, "legend": null}}},
                {"data": {"name": "tl_pts"}, "mark": {"type": "point", "filled": true, "opacity": 1, "size": 90},
                 "encoding": {
                  "x": {"field": "x", "type": "quantitative", "scale": {"domain": [0, 11.5], "nice": false, "zero": false}, "axis": null},
                  "y": {"field": "y", "type": "quantitative", "scale": {"domain": [0, 2.5], "nice": false}, "axis": {"orient": "left", "title": "\u00a0", "titleFontSize": 10, "titleX": -93, "titleY": 180, "titleAngle": 0, "titleAlign": "left", "titleBaseline": "alphabetic"}},
                  "color": {"field": "s", "type": "nominal", "scale": {"domain": ["8 →16","10 →20","12 →24","16 →32","24 →48"], "range": ["#b00000","#ff7400","#138a13","#ff3fd0","#8484ff"]}, "legend": null},
                  "shape": {"field": "s", "type": "nominal", "scale": {"domain": ["8 →16","10 →20","12 →24","16 →32","24 →48"], "range": ["triangle-up", "circle", "square", "M0,-1L0.2939,-0.4045L0.9511,-0.309L0.4755,0.1545L0.5878,0.809L0,0.5L-0.5878,0.809L-0.4755,0.1545L-0.9511,-0.309L-0.2939,-0.4045Z", "M0,-1L0.2939,-0.4045L0.9511,-0.309L0.4755,0.1545L0.5878,0.809L0,0.5L-0.5878,0.809L-0.4755,0.1545L-0.9511,-0.309L-0.2939,-0.4045Z"]}, "legend": null}}},
                {"data": {"name": "tl_pts"}, "transform": [{"filter": "false"}], "mark": {"type": "point", "filled": true},
                 "encoding": {
                  "x": {"field": "x", "type": "quantitative", "scale": {"domain": [0, 11.5], "nice": false, "zero": false}, "axis": null},
                  "y": {"field": "y", "type": "quantitative", "scale": {"domain": [0, 2.5], "nice": false}, "axis": null},
                  "fill": {"field": "s", "type": "nominal", "scale": {"domain": ["8 →16","10 →20","12 →24","16 →32","24 →48"], "range": ["#b00000","#ff7400","#138a13","#ff3fd0","#8484ff"]}, "legend": {"orient": "none", "legendX": 32, "legendY": 17, "symbolSize": 196, "symbolOpacity": 1, "symbolStrokeWidth": 1.4, "labelFont": "DejaVu Sans", "labelFontSize": 15, "labelOffset": 22, "clipHeight": 21.7, "rowPadding": 0, "title": null}},
                  "stroke": {"field": "s", "type": "nominal", "scale": {"domain": ["8 →16","10 →20","12 →24","16 →32","24 →48"], "range": ["#b00000","#ff7400","#138a13","#ff3fd0","#8484ff"]}, "legend": {"orient": "none", "legendX": 32, "legendY": 17, "symbolSize": 196, "symbolOpacity": 1, "symbolStrokeWidth": 1.4, "labelFont": "DejaVu Sans", "labelFontSize": 15, "labelOffset": 22, "clipHeight": 21.7, "rowPadding": 0, "title": null}},
                  "shape": {"field": "s", "type": "nominal", "scale": {"domain": ["8 →16","10 →20","12 →24","16 →32","24 →48"], "range": ["M0,-0.72L0.72,0.55L-0.72,0.55Z M0,-1.3V1.3 M-0.65,-1.3H0.65 M-0.65,1.3H0.65", "M0.585,0L0.507,0.293L0.293,0.507L0,0.585L-0.293,0.507L-0.507,0.293L-0.585,0L-0.507,-0.293L-0.293,-0.507L0,-0.585L0.293,-0.507L0.507,-0.293Z M0,-1.3V1.3 M-0.65,-1.3H0.65 M-0.65,1.3H0.65", "M-0.52,-0.52H0.52V0.52H-0.52Z M0,-1.3V1.3 M-0.65,-1.3H0.65 M-0.65,1.3H0.65", "M0,-0.78L0.22,-0.31L0.74,-0.25L0.36,0.12L0.455,0.62L0,0.39L-0.455,0.62L-0.36,0.12L-0.74,-0.25L-0.22,-0.31Z M0,-1.3V1.3 M-0.65,-1.3H0.65 M-0.65,1.3H0.65", "M0,-0.78L0.22,-0.31L0.74,-0.25L0.36,0.12L0.455,0.62L0,0.39L-0.455,0.62L-0.36,0.12L-0.74,-0.25L-0.22,-0.31Z M0,-1.3V1.3 M-0.65,-1.3H0.65 M-0.65,1.3H0.65"]}, "legend": {"orient": "none", "legendX": 32, "legendY": 17, "symbolSize": 196, "symbolOpacity": 1, "symbolStrokeWidth": 1.4, "labelFont": "DejaVu Sans", "labelFontSize": 15, "labelOffset": 22, "clipHeight": 21.7, "rowPadding": 0, "title": null}}}}
              ]
            },
            {
              "width": 546, "height": 366,
              "resolve": {"scale": {"color": "independent", "fill": "independent", "stroke": "independent", "strokeDash": "independent", "strokeWidth": "independent", "shape": "independent"}, "axis": {"x": "independent", "y": "independent"}},
              "layer": [
                {"data": {"name": "tr_fit"}, "mark": {"type": "area", "opacity": 0.16},
                 "encoding": {
                  "x": {"field": "x", "type": "quantitative", "scale": {"domain": [0, 11.5], "nice": false, "zero": false}, "axis": {"orient": "bottom", "values": [0,1,2,3,4,5,6,7,8,9,10,11], "grid": true, "gridColor": "#d2d2d2", "title": null}},
                  "y": {"field": "lo", "type": "quantitative", "scale": {"domain": [0, 2.5], "nice": false}, "axis": {"orient": "left", "values": [0,0.5,1,1.5,2,2.5], "format": ".2f", "labels": true, "labelFontSize": 18, "labelPadding": 11, "grid": true, "gridColor": "#d2d2d2", "title": "β", "titleFont": "Liberation Serif", "titleFontStyle": "italic", "titleFontSize": 24, "titleX": -70, "titleY": 226, "titleAngle": -90, "titleAlign": "left", "titleBaseline": "alphabetic"}},
                  "y2": {"field": "hi"},
                  "color": {"field": "s", "type": "nominal", "scale": {"domain": ["8 →16","10 →20","12 →24","16 →32","24 →48"], "range": ["#b00000","#ff7400","#138a13","#ff3fd0","#8484ff"]}, "legend": null}}},
                {"data": {"name": "tr_cont"}, "transform": [{"filter": "datum.k == 'linear'"}], "mark": {"type": "area", "color": "#8a8a8a", "opacity": 0.5},
                 "encoding": {
                  "x": {"field": "x", "type": "quantitative", "scale": {"domain": [0, 11.5], "nice": false, "zero": false}, "axis": {"orient": "bottom", "values": [0.2,0.4,0.6,0.8,1.2,1.4,1.6,1.8,2.2,2.4,2.6,2.8,3.2,3.4,3.6,3.8,4.2,4.4,4.6,4.8,5.2,5.4,5.6,5.8,6.2,6.4,6.6,6.8,7.2,7.4,7.6,7.8,8.2,8.4,8.6,8.8,9.2,9.4,9.6,9.8,10.2,10.4,10.6,10.8,11.2,11.4], "grid": true, "gridDash": [1, 3], "gridColor": "#9a9a9a", "title": null}},
                  "y": {"field": "lo", "type": "quantitative", "scale": {"domain": [0, 2.5], "nice": false}, "axis": {"orient": "left", "values": [0.1,0.2,0.3,0.4,0.6,0.7,0.8,0.9,1.1,1.2,1.3,1.4,1.6,1.7,1.8,1.9,2.1,2.2,2.3,2.4], "grid": true, "gridDash": [1, 3], "gridColor": "#9a9a9a", "title": null}},
                  "y2": {"field": "hi"}}},
                {"data": {"name": "tr_fit"}, "mark": {"type": "line", "strokeDash": [6, 4], "strokeWidth": 1.6},
                 "encoding": {
                  "x": {"field": "x", "type": "quantitative", "scale": {"domain": [0, 11.5], "nice": false, "zero": false}, "axis": {"orient": "bottom", "title": "N", "titleFontSize": 18, "titleX": 346, "titleY": -12, "titleAngle": 0, "titleAlign": "left", "titleBaseline": "alphabetic"}},
                  "y": {"field": "y", "type": "quantitative", "scale": {"domain": [0, 2.5], "nice": false}, "axis": {"orient": "left", "title": "c,s", "titleFontSize": 16, "titleX": -64, "titleY": 212, "titleAngle": -90, "titleAlign": "left", "titleBaseline": "alphabetic"}},
                  "color": {"field": "s", "type": "nominal", "scale": {"domain": ["8 →16","10 →20","12 →24","16 →32","24 →48"], "range": ["#b00000","#ff7400","#138a13","#ff3fd0","#8484ff"]}, "legend": null}}},
                {"data": {"name": "tr_cont"}, "mark": {"type": "line"},
                 "encoding": {
                  "x": {"field": "x", "type": "quantitative", "scale": {"domain": [0, 11.5], "nice": false, "zero": false}, "axis": {"orient": "bottom", "title": "f", "titleFontSize": 12, "titleX": 360, "titleY": -7, "titleAngle": 0, "titleAlign": "left", "titleBaseline": "alphabetic"}},
                  "y": {"field": "y", "type": "quantitative", "scale": {"domain": [0, 2.5], "nice": false}, "axis": {"orient": "left", "title": "(g", "titleFontSize": 24, "titleX": -70, "titleY": 187, "titleAngle": -90, "titleAlign": "left", "titleBaseline": "alphabetic"}},
                  "stroke": {"field": "k", "type": "nominal", "scale": {"domain": ["linear", "quadratic"], "range": ["#000000", "#6b6b6b"]}, "legend": {"orient": "none", "legendX": 27, "legendY": 125, "symbolType": "M-2.4,0H2.4", "symbolSize": 400, "labelOffset": 17, "clipHeight": 22, "rowPadding": 0, "title": null}},
                  "strokeDash": {"field": "k", "type": "nominal", "scale": {"domain": ["linear", "quadratic"], "range": [[1, 0], [7, 2.5, 2, 2.5]]}},
                  "strokeWidth": {"field": "k", "type": "nominal", "scale": {"domain": ["linear", "quadratic"], "range": [1.6, 3.4]}}}},
                {"data": {"name": "tr_pts"}, "mark": {"type": "rule", "strokeWidth": 1.3},
                 "encoding": {
                  "x": {"field": "x", "type": "quantitative", "scale": {"domain": [0, 11.5], "nice": false, "zero": false}, "axis": {"orient": "bottom", "title": "=8, ZS, c=0.275, s=2", "titleFontSize": 18, "titleX": 365, "titleY": -12, "titleAngle": 0, "titleAlign": "left", "titleBaseline": "alphabetic"}},
                  "y": {"field": "lo", "type": "quantitative", "scale": {"domain": [0, 2.5], "nice": false}, "axis": {"orient": "left", "title": "2", "titleFontSize": 16, "titleX": -80, "titleY": 165, "titleAngle": -90, "titleAlign": "left", "titleBaseline": "alphabetic"}},
                  "y2": {"field": "hi"},
                  "color": {"field": "s", "type": "nominal", "scale": {"domain": ["8 →16","10 →20","12 →24","16 →32","24 →48"], "range": ["#b00000","#ff7400","#138a13","#ff3fd0","#8484ff"]}, "legend": null}}},
                {"data": {"name": "tr_pts"}, "mark": {"type": "tick", "orient": "horizontal", "size": 10, "thickness": 1.3},
                 "encoding": {
                  "x": {"field": "x", "type": "quantitative", "scale": {"domain": [0, 11.5], "nice": false, "zero": false}, "axis": null},
                  "y": {"field": "lo", "type": "quantitative", "scale": {"domain": [0, 2.5], "nice": false}, "axis": {"orient": "left", "title": "c", "titleFontSize": 16, "titleX": -64, "titleY": 165, "titleAngle": -90, "titleAlign": "left", "titleBaseline": "alphabetic"}},
                  "color": {"field": "s", "type": "nominal", "scale": {"domain": ["8 →16","10 →20","12 →24","16 →32","24 →48"], "range": ["#b00000","#ff7400","#138a13","#ff3fd0","#8484ff"]}, "legend": null}}},
                {"data": {"name": "tr_pts"}, "mark": {"type": "tick", "orient": "horizontal", "size": 10, "thickness": 1.3},
                 "encoding": {
                  "x": {"field": "x", "type": "quantitative", "scale": {"domain": [0, 11.5], "nice": false, "zero": false}, "axis": null},
                  "y": {"field": "hi", "type": "quantitative", "scale": {"domain": [0, 2.5], "nice": false}, "axis": {"orient": "left", "title": ")", "titleFontSize": 24, "titleX": -70, "titleY": 155, "titleAngle": -90, "titleAlign": "left", "titleBaseline": "alphabetic"}},
                  "color": {"field": "s", "type": "nominal", "scale": {"domain": ["8 →16","10 →20","12 →24","16 →32","24 →48"], "range": ["#b00000","#ff7400","#138a13","#ff3fd0","#8484ff"]}, "legend": null}}},
                {"data": {"name": "tr_pts"}, "mark": {"type": "point", "filled": true, "opacity": 1, "size": 90},
                 "encoding": {
                  "x": {"field": "x", "type": "quantitative", "scale": {"domain": [0, 11.5], "nice": false, "zero": false}, "axis": null},
                  "y": {"field": "y", "type": "quantitative", "scale": {"domain": [0, 2.5], "nice": false}, "axis": null},
                  "color": {"field": "s", "type": "nominal", "scale": {"domain": ["8 →16","10 →20","12 →24","16 →32","24 →48"], "range": ["#b00000","#ff7400","#138a13","#ff3fd0","#8484ff"]}, "legend": null},
                  "shape": {"field": "s", "type": "nominal", "scale": {"domain": ["8 →16","10 →20","12 →24","16 →32","24 →48"], "range": ["triangle-up", "circle", "square", "M0,-1L0.2939,-0.4045L0.9511,-0.309L0.4755,0.1545L0.5878,0.809L0,0.5L-0.5878,0.809L-0.4755,0.1545L-0.9511,-0.309L-0.2939,-0.4045Z", "M0,-1L0.2939,-0.4045L0.9511,-0.309L0.4755,0.1545L0.5878,0.809L0,0.5L-0.5878,0.809L-0.4755,0.1545L-0.9511,-0.309L-0.2939,-0.4045Z"]}, "legend": null}}},
                {"data": {"name": "tr_pts"}, "transform": [{"filter": "false"}], "mark": {"type": "point", "filled": true},
                 "encoding": {
                  "x": {"field": "x", "type": "quantitative", "scale": {"domain": [0, 11.5], "nice": false, "zero": false}, "axis": null},
                  "y": {"field": "y", "type": "quantitative", "scale": {"domain": [0, 2.5], "nice": false}, "axis": null},
                  "fill": {"field": "s", "type": "nominal", "scale": {"domain": ["8 →16","10 →20","12 →24","16 →32","24 →48"], "range": ["#b00000","#ff7400","#138a13","#ff3fd0","#8484ff"]}, "legend": {"orient": "none", "legendX": 32, "legendY": 17, "symbolSize": 196, "symbolOpacity": 1, "symbolStrokeWidth": 1.4, "labelFont": "DejaVu Sans", "labelFontSize": 15, "labelOffset": 22, "clipHeight": 21.7, "rowPadding": 0, "title": null}},
                  "stroke": {"field": "s", "type": "nominal", "scale": {"domain": ["8 →16","10 →20","12 →24","16 →32","24 →48"], "range": ["#b00000","#ff7400","#138a13","#ff3fd0","#8484ff"]}, "legend": {"orient": "none", "legendX": 32, "legendY": 17, "symbolSize": 196, "symbolOpacity": 1, "symbolStrokeWidth": 1.4, "labelFont": "DejaVu Sans", "labelFontSize": 15, "labelOffset": 22, "clipHeight": 21.7, "rowPadding": 0, "title": null}},
                  "shape": {"field": "s", "type": "nominal", "scale": {"domain": ["8 →16","10 →20","12 →24","16 →32","24 →48"], "range": ["M0,-0.72L0.72,0.55L-0.72,0.55Z M0,-1.3V1.3 M-0.65,-1.3H0.65 M-0.65,1.3H0.65", "M0.585,0L0.507,0.293L0.293,0.507L0,0.585L-0.293,0.507L-0.507,0.293L-0.585,0L-0.507,-0.293L-0.293,-0.507L0,-0.585L0.293,-0.507L0.507,-0.293Z M0,-1.3V1.3 M-0.65,-1.3H0.65 M-0.65,1.3H0.65", "M-0.52,-0.52H0.52V0.52H-0.52Z M0,-1.3V1.3 M-0.65,-1.3H0.65 M-0.65,1.3H0.65", "M0,-0.78L0.22,-0.31L0.74,-0.25L0.36,0.12L0.455,0.62L0,0.39L-0.455,0.62L-0.36,0.12L-0.74,-0.25L-0.22,-0.31Z M0,-1.3V1.3 M-0.65,-1.3H0.65 M-0.65,1.3H0.65", "M0,-0.78L0.22,-0.31L0.74,-0.25L0.36,0.12L0.455,0.62L0,0.39L-0.455,0.62L-0.36,0.12L-0.74,-0.25L-0.22,-0.31Z M0,-1.3V1.3 M-0.65,-1.3H0.65 M-0.65,1.3H0.65"]}, "legend": {"orient": "none", "legendX": 32, "legendY": 17, "symbolSize": 196, "symbolOpacity": 1, "symbolStrokeWidth": 1.4, "labelFont": "DejaVu Sans", "labelFontSize": 15, "labelOffset": 22, "clipHeight": 21.7, "rowPadding": 0, "title": null}}}}
              ]
            }
          ]
        },
        {
          "bounds": "flush",
          "spacing": 127,
          "resolve": {"scale": {"x": "independent", "y": "independent", "color": "independent", "fill": "independent", "stroke": "independent", "strokeDash": "independent", "strokeWidth": "independent", "shape": "independent"}},
          "hconcat": [
            {
              "width": 546, "height": 181,
              "resolve": {"axis": {"x": "independent", "y": "independent"}},
              "layer": [
                {"data": {"name": "pl"}, "transform": [{"filter": "datum.k == 'linear'"}], "mark": {"type": "line", "color": "#000000", "strokeWidth": 1.3},
                 "encoding": {
                  "x": {"field": "x", "type": "quantitative", "scale": {"domain": [0, 11.5], "nice": false, "zero": false}, "axis": {"orient": "bottom", "values": [0,1,2,3,4,5,6,7,8,9,10,11], "labels": true, "labelFontSize": 15, "labelPadding": 7, "grid": true, "gridColor": "#d2d2d2", "title": null}},
                  "y": {"field": "p", "type": "quantitative", "scale": {"domain": [0, 1], "nice": false}, "axis": {"orient": "left", "values": [0, 0.25, 0.5, 0.75, 1], "format": ".2~f", "labels": true, "labelFontSize": 15, "labelPadding": 10, "grid": true, "gridColor": "#d2d2d2", "title": "p-value", "titleFontSize": 19, "titleX": -63, "titleY": 93, "titleAngle": -90, "titleAlign": "center", "titleBaseline": "alphabetic"}}}},
                {"data": {"name": "pl"}, "transform": [{"filter": "datum.k == 'quadratic'"}], "mark": {"type": "line", "color": "#4d4d4d", "strokeWidth": 0.9, "strokeDash": [7, 3, 1.5, 3]},
                 "encoding": {
                  "x": {"field": "x", "type": "quantitative", "scale": {"domain": [0, 11.5], "nice": false, "zero": false}, "axis": {"orient": "bottom", "values": [0.2,0.4,0.6,0.8,1.2,1.4,1.6,1.8,2.2,2.4,2.6,2.8,3.2,3.4,3.6,3.8,4.2,4.4,4.6,4.8,5.2,5.4,5.6,5.8,6.2,6.4,6.6,6.8,7.2,7.4,7.6,7.8,8.2,8.4,8.6,8.8,9.2,9.4,9.6,9.8,10.2,10.4,10.6,10.8,11.2,11.4], "grid": true, "gridDash": [1, 3], "gridColor": "#9a9a9a", "title": null}},
                  "y": {"field": "p", "type": "quantitative", "scale": {"domain": [0, 1], "nice": false}, "axis": {"orient": "left", "values": [0.05,0.1,0.15,0.2,0.3,0.35,0.4,0.45,0.55,0.6,0.65,0.7,0.8,0.85,0.9,0.95], "grid": true, "gridDash": [1, 3], "gridColor": "#9a9a9a", "title": null}}}},
                {"data": {"name": "pl"}, "mark": {"type": "point", "opacity": 0},
                 "encoding": {
                  "x": {"field": "x", "type": "quantitative", "scale": {"domain": [0, 11.5], "nice": false, "zero": false}, "axis": {"orient": "bottom", "title": "g", "titleFontSize": 19, "titleX": 263, "titleY": 52, "titleAngle": 0, "titleAlign": "left", "titleBaseline": "alphabetic"}},
                  "y": {"field": "p", "type": "quantitative", "scale": {"domain": [0, 1], "nice": false}, "axis": {"orient": "left", "title": "\u00a0", "titleFontSize": 10, "titleX": -93, "titleY": 90, "titleAngle": 0, "titleAlign": "left", "titleBaseline": "alphabetic"}}}},
                {"data": {"name": "pl"}, "mark": {"type": "point", "opacity": 0},
                 "encoding": {
                  "x": {"field": "x", "type": "quantitative", "scale": {"domain": [0, 11.5], "nice": false, "zero": false}, "axis": {"orient": "bottom", "title": "2", "titleFontSize": 13, "titleX": 275, "titleY": 43, "titleAngle": 0, "titleAlign": "left", "titleBaseline": "alphabetic"}},
                  "y": {"field": "p", "type": "quantitative", "scale": {"domain": [0, 1], "nice": false}, "axis": null}}},
                {"data": {"name": "pl"}, "mark": {"type": "point", "opacity": 0},
                 "encoding": {
                  "x": {"field": "x", "type": "quantitative", "scale": {"domain": [0, 11.5], "nice": false, "zero": false}, "axis": {"orient": "bottom", "title": "c", "titleFontSize": 13, "titleX": 275, "titleY": 59, "titleAngle": 0, "titleAlign": "left", "titleBaseline": "alphabetic"}},
                  "y": {"field": "p", "type": "quantitative", "scale": {"domain": [0, 1], "nice": false}, "axis": null}}}
              ]
            },
            {
              "width": 546, "height": 181,
              "resolve": {"axis": {"x": "independent", "y": "independent"}},
              "layer": [
                {"data": {"name": "pr"}, "transform": [{"filter": "datum.k == 'linear'"}], "mark": {"type": "line", "color": "#000000", "strokeWidth": 1.3},
                 "encoding": {
                  "x": {"field": "x", "type": "quantitative", "scale": {"domain": [0, 11.5], "nice": false, "zero": false}, "axis": {"orient": "bottom", "values": [0,1,2,3,4,5,6,7,8,9,10,11], "labels": true, "labelFontSize": 15, "labelPadding": 7, "grid": true, "gridColor": "#d2d2d2", "title": null}},
                  "y": {"field": "p", "type": "quantitative", "scale": {"domain": [0, 1], "nice": false}, "axis": {"orient": "left", "values": [0, 0.25, 0.5, 0.75, 1], "format": ".2~f", "labels": true, "labelFontSize": 15, "labelPadding": 10, "grid": true, "gridColor": "#d2d2d2", "title": "p-value", "titleFontSize": 19, "titleX": -63, "titleY": 93, "titleAngle": -90, "titleAlign": "center", "titleBaseline": "alphabetic"}}}},
                {"data": {"name": "pr"}, "transform": [{"filter": "datum.k == 'quadratic'"}], "mark": {"type": "line", "color": "#4d4d4d", "strokeWidth": 0.9, "strokeDash": [7, 3, 1.5, 3]},
                 "encoding": {
                  "x": {"field": "x", "type": "quantitative", "scale": {"domain": [0, 11.5], "nice": false, "zero": false}, "axis": {"orient": "bottom", "values": [0.2,0.4,0.6,0.8,1.2,1.4,1.6,1.8,2.2,2.4,2.6,2.8,3.2,3.4,3.6,3.8,4.2,4.4,4.6,4.8,5.2,5.4,5.6,5.8,6.2,6.4,6.6,6.8,7.2,7.4,7.6,7.8,8.2,8.4,8.6,8.8,9.2,9.4,9.6,9.8,10.2,10.4,10.6,10.8,11.2,11.4], "grid": true, "gridDash": [1, 3], "gridColor": "#9a9a9a", "title": null}},
                  "y": {"field": "p", "type": "quantitative", "scale": {"domain": [0, 1], "nice": false}, "axis": {"orient": "left", "values": [0.05,0.1,0.15,0.2,0.3,0.35,0.4,0.45,0.55,0.6,0.65,0.7,0.8,0.85,0.9,0.95], "grid": true, "gridDash": [1, 3], "gridColor": "#9a9a9a", "title": null}}}},
                {"data": {"name": "pr"}, "mark": {"type": "point", "opacity": 0},
                 "encoding": {
                  "x": {"field": "x", "type": "quantitative", "scale": {"domain": [0, 11.5], "nice": false, "zero": false}, "axis": {"orient": "bottom", "title": "g", "titleFontSize": 19, "titleX": 263, "titleY": 52, "titleAngle": 0, "titleAlign": "left", "titleBaseline": "alphabetic"}},
                  "y": {"field": "p", "type": "quantitative", "scale": {"domain": [0, 1], "nice": false}, "axis": null}}},
                {"data": {"name": "pr"}, "mark": {"type": "point", "opacity": 0},
                 "encoding": {
                  "x": {"field": "x", "type": "quantitative", "scale": {"domain": [0, 11.5], "nice": false, "zero": false}, "axis": {"orient": "bottom", "title": "2", "titleFontSize": 13, "titleX": 275, "titleY": 43, "titleAngle": 0, "titleAlign": "left", "titleBaseline": "alphabetic"}},
                  "y": {"field": "p", "type": "quantitative", "scale": {"domain": [0, 1], "nice": false}, "axis": null}}},
                {"data": {"name": "pr"}, "mark": {"type": "point", "opacity": 0},
                 "encoding": {
                  "x": {"field": "x", "type": "quantitative", "scale": {"domain": [0, 11.5], "nice": false, "zero": false}, "axis": {"orient": "bottom", "title": "c", "titleFontSize": 13, "titleX": 275, "titleY": 59, "titleAngle": 0, "titleAlign": "left", "titleBaseline": "alphabetic"}},
                  "y": {"field": "p", "type": "quantitative", "scale": {"domain": [0, 1], "nice": false}, "axis": null}}}
              ]
            }
          ]
        }
      ]
    },
    {
      "spacing": 3,
      "resolve": {"scale": {"x": "independent", "y": "independent", "color": "independent", "fill": "independent", "stroke": "independent", "strokeDash": "independent", "strokeWidth": "independent", "shape": "independent"}},
      "vconcat": [
        {
          "bounds": "flush",
          "spacing": 127,
          "resolve": {"scale": {"x": "independent", "y": "independent", "color": "independent", "fill": "independent", "stroke": "independent", "strokeDash": "independent", "strokeWidth": "independent", "shape": "independent"}},
          "hconcat": [
            {
              "width": 546, "height": 204,
              "resolve": {"scale": {"color": "independent", "fill": "independent", "stroke": "independent", "strokeDash": "independent", "shape": "independent"}, "axis": {"x": "independent", "y": "independent"}},
              "layer": [
                {"data": {"name": "b20_fit"}, "mark": {"type": "area", "opacity": 0.4},
                 "encoding": {
                  "x": {"field": "x", "type": "quantitative", "scale": {"domain": [0, 0.01774], "nice": false, "zero": false}, "axis": {"orient": "bottom", "values": [0, 0.005, 0.01, 0.015], "ticks": true, "tickSize": -6, "title": null}},
                  "y": {"field": "lo", "type": "quantitative", "scale": {"domain": [0, 0.196], "nice": false, "zero": false}, "axis": {"orient": "left", "values": [0.03, 0.07, 0.11, 0.15], "format": ".2f", "labels": true, "labelFontSize": 17, "ticks": true, "tickSize": -6, "labelPadding": 17, "title": "β", "titleFont": "Liberation Serif", "titleFontStyle": "italic", "titleFontSize": 24, "titleX": -68, "titleY": 182, "titleAngle": -90, "titleAlign": "left", "titleBaseline": "alphabetic"}},
                  "y2": {"field": "hi"},
                  "fill": {"field": "f", "type": "nominal", "scale": {"domain": ["ZS linear:\u00a0 β=0.126(9) [25%]", "ZS quadratic:\u00a0\u00a0\u00a0 β=0.127(9) [3%]", "nZS linear:\u00a0 β=0.118(8) [34%]", "nZS quadratic:\u00a0\u00a0\u00a0 β=0.124(8) [22%]"], "range": ["#f8c030", "#d05050", "#80d080", "#5050c8"]}, "legend": {"orient": "none", "legendX": 14, "legendY": 117, "symbolType": "M-1,-0.55H1V0.55H-1Z", "symbolSize": 441, "symbolOpacity": 0.45, "symbolStrokeWidth": 0, "labelFontSize": 14.5, "labelExpr": "''", "labelOffset": 0, "rowPadding": 2.1, "title": null}}}},
                {"data": {"name": "b20_fit"}, "mark": {"type": "line", "strokeWidth": 1.5},
                 "encoding": {
                  "x": {"field": "x", "type": "quantitative", "scale": {"domain": [0, 0.01774], "nice": false, "zero": false}, "axis": {"orient": "top", "values": [0, 0.005, 0.01, 0.015], "ticks": true, "tickSize": -6, "title": null}},
                  "y": {"field": "y", "type": "quantitative", "scale": {"domain": [0, 0.196], "nice": false, "zero": false}, "axis": {"orient": "right", "values": [0.03, 0.07, 0.11, 0.15], "ticks": true, "tickSize": -6, "title": null}},
                  "stroke": {"field": "f", "type": "nominal", "scale": {"domain": ["ZS linear:\u00a0 β=0.126(9) [25%]", "ZS quadratic:\u00a0\u00a0\u00a0 β=0.127(9) [3%]", "nZS linear:\u00a0 β=0.118(8) [34%]", "nZS quadratic:\u00a0\u00a0\u00a0 β=0.124(8) [22%]"], "range": ["#f5a500", "#e01010", "#30c030", "#1515c0"]}, "legend": {"orient": "none", "legendX": 14, "legendY": 117, "symbolType": "stroke", "symbolSize": 441, "symbolStrokeWidth": 1.5, "labelFontSize": 14.5, "labelOffset": 0, "rowPadding": 2.1, "title": null}},
                  "strokeDash": {"field": "f", "type": "nominal", "scale": {"domain": ["ZS linear:\u00a0 β=0.126(9) [25%]", "ZS quadratic:\u00a0\u00a0\u00a0 β=0.127(9) [3%]", "nZS linear:\u00a0 β=0.118(8) [34%]", "nZS quadratic:\u00a0\u00a0\u00a0 β=0.124(8) [22%]"], "range": [[1, 0], [1.5, 2.5], [5, 3], [9, 4]]}}}},
                {"data": {"name": "b20_pts"}, "mark": {"type": "rule", "strokeWidth": 1.3},
                 "encoding": {
                  "x": {"field": "x", "type": "quantitative", "scale": {"domain": [0, 0.01774], "nice": false, "zero": false}, "axis": {"orient": "top", "title": "N", "titleFontSize": 16, "titleX": 514, "titleY": 26, "titleAngle": 0, "titleAlign": "right", "titleBaseline": "alphabetic"}},
                  "y": {"field": "lo", "type": "quantitative", "scale": {"domain": [0, 0.196], "nice": false, "zero": false}, "axis": {"orient": "left", "title": "c,s", "titleFontSize": 16, "titleX": -62, "titleY": 168, "titleAngle": -90, "titleAlign": "left", "titleBaseline": "alphabetic"}},
                  "y2": {"field": "hi"},
                  "color": {"field": "f", "type": "nominal", "scale": {"domain": ["ZS", "nZS"], "range": ["#e00000", "#0000e0"]}, "legend": null}}},
                {"data": {"name": "b20_pts"}, "mark": {"type": "tick", "orient": "horizontal", "size": 7, "thickness": 1.3},
                 "encoding": {
                  "x": {"field": "x", "type": "quantitative", "scale": {"domain": [0, 0.01774], "nice": false, "zero": false}, "axis": {"orient": "top", "title": "f", "titleFontSize": 11, "titleX": 518, "titleY": 30, "titleAngle": 0, "titleAlign": "right", "titleBaseline": "alphabetic"}},
                  "y": {"field": "lo", "type": "quantitative", "scale": {"domain": [0, 0.196], "nice": false, "zero": false}, "axis": {"orient": "left", "title": "(g", "titleFontSize": 24, "titleX": -68, "titleY": 143, "titleAngle": -90, "titleAlign": "left", "titleBaseline": "alphabetic"}},
                  "color": {"field": "f", "type": "nominal", "scale": {"domain": ["ZS", "nZS"], "range": ["#e00000", "#0000e0"]}, "legend": null}}},
                {"data": {"name": "b20_pts"}, "mark": {"type": "tick", "orient": "horizontal", "size": 7, "thickness": 1.3},
                 "encoding": {
                  "x": {"field": "x", "type": "quantitative", "scale": {"domain": [0, 0.01774], "nice": false, "zero": false}, "axis": {"orient": "top", "title": ["=8", "c=0.275", "s=2"], "titleFontSize": 16, "titleLineHeight": 21, "titleX": 536, "titleY": 26, "titleAngle": 0, "titleAlign": "right", "titleBaseline": "alphabetic"}},
                  "y": {"field": "hi", "type": "quantitative", "scale": {"domain": [0, 0.196], "nice": false, "zero": false}, "axis": {"orient": "left", "title": "2", "titleFontSize": 16, "titleX": -78, "titleY": 122, "titleAngle": -90, "titleAlign": "left", "titleBaseline": "alphabetic"}},
                  "color": {"field": "f", "type": "nominal", "scale": {"domain": ["ZS", "nZS"], "range": ["#e00000", "#0000e0"]}, "legend": null}}},
                {"data": {"name": "b20_pts"}, "mark": {"type": "point", "shape": "M-1,-1L1,1M-1,1L1,-1", "size": 25, "strokeWidth": 1.2, "filled": false, "opacity": 1},
                 "encoding": {
                  "x": {"field": "x", "type": "quantitative", "scale": {"domain": [0, 0.01774], "nice": false, "zero": false}, "axis": null},
                  "y": {"field": "y", "type": "quantitative", "scale": {"domain": [0, 0.196], "nice": false, "zero": false}, "axis": {"orient": "left", "title": "c", "titleFontSize": 16, "titleX": -62, "titleY": 122, "titleAngle": -90, "titleAlign": "left", "titleBaseline": "alphabetic"}},
                  "color": {"field": "f", "type": "nominal", "scale": {"domain": ["ZS", "nZS"], "range": ["#e00000", "#0000e0"]}, "legend": null}}},
                {"data": {"name": "b20_pts"}, "mark": {"type": "point", "opacity": 0},
                 "encoding": {
                  "x": {"field": "x", "type": "quantitative", "scale": {"domain": [0, 0.01774], "nice": false, "zero": false}, "axis": null},
                  "y": {"field": "y", "type": "quantitative", "scale": {"domain": [0, 0.196], "nice": false, "zero": false}, "axis": {"orient": "left", "title": "=2.0)", "titleFontSize": 24, "titleX": -68, "titleY": 112, "titleAngle": -90, "titleAlign": "left", "titleBaseline": "alphabetic"}}}}
              ]
            },
            {
              "width": 546, "height": 204,
              "resolve": {"scale": {"color": "independent", "fill": "independent", "stroke": "independent", "strokeDash": "independent", "shape": "independent"}, "axis": {"x": "independent", "y": "independent"}},
              "layer": [
                {"data": {"name": "b66_fit"}, "mark": {"type": "area", "opacity": 0.4},
                 "encoding": {
                  "x": {"field": "x", "type": "quantitative", "scale": {"domain": [0, 0.01774], "nice": false, "zero": false}, "axis": {"orient": "bottom", "values": [0, 0.005, 0.01, 0.015], "ticks": true, "tickSize": -6, "title": null}},
                  "y": {"field": "lo", "type": "quantitative", "scale": {"domain": [0.6, 1.82], "nice": false, "zero": false}, "axis": {"orient": "left", "values": [0.7, 1.0, 1.3, 1.6], "format": ".2f", "labels": true, "labelFontSize": 17, "ticks": true, "tickSize": -6, "labelPadding": 17, "title": "β", "titleFont": "Liberation Serif", "titleFontStyle": "italic", "titleFontSize": 24, "titleX": -68, "titleY": 182, "titleAngle": -90, "titleAlign": "left", "titleBaseline": "alphabetic"}},
                  "y2": {"field": "hi"},
                  "fill": {"field": "f", "type": "nominal", "scale": {"domain": ["ZS linear:\u00a0 β=1.27(4) [7%]", "ZS quadratic:\u00a0\u00a0\u00a0 β=1.21(4) [1%]", "nZS linear:\u00a0 β=1.24(4) [28%]", "nZS quadratic:\u00a0\u00a0\u00a0 β=1.26(4) [11%]"], "range": ["#f8c030", "#d05050", "#80d080", "#5050c8"]}, "legend": {"orient": "none", "legendX": 15, "legendY": 12, "symbolType": "M-1,-0.55H1V0.55H-1Z", "symbolSize": 441, "symbolOpacity": 0.45, "symbolStrokeWidth": 0, "labelFontSize": 14.5, "labelExpr": "''", "labelOffset": 0, "rowPadding": 2.1, "title": null}}}},
                {"data": {"name": "b66_fit"}, "mark": {"type": "line", "strokeWidth": 1.5},
                 "encoding": {
                  "x": {"field": "x", "type": "quantitative", "scale": {"domain": [0, 0.01774], "nice": false, "zero": false}, "axis": {"orient": "top", "values": [0, 0.005, 0.01, 0.015], "ticks": true, "tickSize": -6, "title": null}},
                  "y": {"field": "y", "type": "quantitative", "scale": {"domain": [0.6, 1.82], "nice": false, "zero": false}, "axis": {"orient": "right", "values": [0.7, 1.0, 1.3, 1.6], "ticks": true, "tickSize": -6, "title": null}},
                  "stroke": {"field": "f", "type": "nominal", "scale": {"domain": ["ZS linear:\u00a0 β=1.27(4) [7%]", "ZS quadratic:\u00a0\u00a0\u00a0 β=1.21(4) [1%]", "nZS linear:\u00a0 β=1.24(4) [28%]", "nZS quadratic:\u00a0\u00a0\u00a0 β=1.26(4) [11%]"], "range": ["#f5a500", "#e01010", "#30c030", "#1515c0"]}, "legend": {"orient": "none", "legendX": 15, "legendY": 12, "symbolType": "stroke", "symbolSize": 441, "symbolStrokeWidth": 1.5, "labelFontSize": 14.5, "labelOffset": 0, "rowPadding": 2.1, "title": null}},
                  "strokeDash": {"field": "f", "type": "nominal", "scale": {"domain": ["ZS linear:\u00a0 β=1.27(4) [7%]", "ZS quadratic:\u00a0\u00a0\u00a0 β=1.21(4) [1%]", "nZS linear:\u00a0 β=1.24(4) [28%]", "nZS quadratic:\u00a0\u00a0\u00a0 β=1.26(4) [11%]"], "range": [[1, 0], [1.5, 2.5], [5, 3], [9, 4]]}}}},
                {"data": {"name": "b66_pts"}, "mark": {"type": "rule", "strokeWidth": 1.3},
                 "encoding": {
                  "x": {"field": "x", "type": "quantitative", "scale": {"domain": [0, 0.01774], "nice": false, "zero": false}, "axis": {"orient": "top", "title": "N", "titleFontSize": 16, "titleX": 514, "titleY": 26, "titleAngle": 0, "titleAlign": "right", "titleBaseline": "alphabetic"}},
                  "y": {"field": "lo", "type": "quantitative", "scale": {"domain": [0.6, 1.82], "nice": false, "zero": false}, "axis": {"orient": "left", "title": "c,s", "titleFontSize": 16, "titleX": -62, "titleY": 168, "titleAngle": -90, "titleAlign": "left", "titleBaseline": "alphabetic"}},
                  "y2": {"field": "hi"},
                  "color": {"field": "f", "type": "nominal", "scale": {"domain": ["ZS", "nZS"], "range": ["#e00000", "#0000e0"]}, "legend": null}}},
                {"data": {"name": "b66_pts"}, "mark": {"type": "tick", "orient": "horizontal", "size": 7, "thickness": 1.3},
                 "encoding": {
                  "x": {"field": "x", "type": "quantitative", "scale": {"domain": [0, 0.01774], "nice": false, "zero": false}, "axis": {"orient": "top", "title": "f", "titleFontSize": 11, "titleX": 518, "titleY": 30, "titleAngle": 0, "titleAlign": "right", "titleBaseline": "alphabetic"}},
                  "y": {"field": "lo", "type": "quantitative", "scale": {"domain": [0.6, 1.82], "nice": false, "zero": false}, "axis": {"orient": "left", "title": "(g", "titleFontSize": 24, "titleX": -68, "titleY": 143, "titleAngle": -90, "titleAlign": "left", "titleBaseline": "alphabetic"}},
                  "color": {"field": "f", "type": "nominal", "scale": {"domain": ["ZS", "nZS"], "range": ["#e00000", "#0000e0"]}, "legend": null}}},
                {"data": {"name": "b66_pts"}, "mark": {"type": "tick", "orient": "horizontal", "size": 7, "thickness": 1.3},
                 "encoding": {
                  "x": {"field": "x", "type": "quantitative", "scale": {"domain": [0, 0.01774], "nice": false, "zero": false}, "axis": {"orient": "top", "title": ["=8", "c=0.275", "s=2"], "titleFontSize": 16, "titleLineHeight": 21, "titleX": 536, "titleY": 26, "titleAngle": 0, "titleAlign": "right", "titleBaseline": "alphabetic"}},
                  "y": {"field": "hi", "type": "quantitative", "scale": {"domain": [0.6, 1.82], "nice": false, "zero": false}, "axis": {"orient": "left", "title": "2", "titleFontSize": 16, "titleX": -78, "titleY": 122, "titleAngle": -90, "titleAlign": "left", "titleBaseline": "alphabetic"}},
                  "color": {"field": "f", "type": "nominal", "scale": {"domain": ["ZS", "nZS"], "range": ["#e00000", "#0000e0"]}, "legend": null}}},
                {"data": {"name": "b66_pts"}, "mark": {"type": "point", "shape": "M-1,-1L1,1M-1,1L1,-1", "size": 25, "strokeWidth": 1.2, "filled": false, "opacity": 1},
                 "encoding": {
                  "x": {"field": "x", "type": "quantitative", "scale": {"domain": [0, 0.01774], "nice": false, "zero": false}, "axis": null},
                  "y": {"field": "y", "type": "quantitative", "scale": {"domain": [0.6, 1.82], "nice": false, "zero": false}, "axis": {"orient": "left", "title": "c", "titleFontSize": 16, "titleX": -62, "titleY": 122, "titleAngle": -90, "titleAlign": "left", "titleBaseline": "alphabetic"}},
                  "color": {"field": "f", "type": "nominal", "scale": {"domain": ["ZS", "nZS"], "range": ["#e00000", "#0000e0"]}, "legend": null}}},
                {"data": {"name": "b66_pts"}, "mark": {"type": "point", "opacity": 0},
                 "encoding": {
                  "x": {"field": "x", "type": "quantitative", "scale": {"domain": [0, 0.01774], "nice": false, "zero": false}, "axis": null},
                  "y": {"field": "y", "type": "quantitative", "scale": {"domain": [0.6, 1.82], "nice": false, "zero": false}, "axis": {"orient": "left", "title": "=6.6)", "titleFontSize": 24, "titleX": -68, "titleY": 112, "titleAngle": -90, "titleAlign": "left", "titleBaseline": "alphabetic"}}}}
              ]
            }
          ]
        },
        {
          "bounds": "flush",
          "spacing": 127,
          "resolve": {"scale": {"x": "independent", "y": "independent", "color": "independent", "fill": "independent", "stroke": "independent", "strokeDash": "independent", "strokeWidth": "independent", "shape": "independent"}},
          "hconcat": [
            {
              "width": 546, "height": 204,
              "resolve": {"scale": {"color": "independent", "fill": "independent", "stroke": "independent", "strokeDash": "independent", "shape": "independent"}, "axis": {"x": "independent", "y": "independent"}},
              "layer": [
                {"data": {"name": "b43_fit"}, "mark": {"type": "area", "opacity": 0.4},
                 "encoding": {
                  "x": {"field": "x", "type": "quantitative", "scale": {"domain": [0, 0.01774], "nice": false, "zero": false}, "axis": {"orient": "bottom", "values": [0, 0.005, 0.01, 0.015], "format": "~g", "labels": true, "labelFontSize": 17, "labelPadding": 16, "ticks": true, "tickSize": -6, "title": null}},
                  "y": {"field": "lo", "type": "quantitative", "scale": {"domain": [0.25, 0.85], "nice": false, "zero": false}, "axis": {"orient": "left", "values": [0.3, 0.4, 0.5, 0.6, 0.7, 0.8], "format": ".2f", "labels": true, "labelFontSize": 17, "ticks": true, "tickSize": -6, "labelPadding": 17, "title": "β", "titleFont": "Liberation Serif", "titleFontStyle": "italic", "titleFontSize": 24, "titleX": -68, "titleY": 182, "titleAngle": -90, "titleAlign": "left", "titleBaseline": "alphabetic"}},
                  "y2": {"field": "hi"},
                  "fill": {"field": "f", "type": "nominal", "scale": {"domain": ["ZS linear:\u00a0 β=0.61(3) [79%]", "ZS quadratic:\u00a0\u00a0\u00a0 β=0.59(3) [86%]", "nZS linear:\u00a0 β=0.59(2) [50%]", "nZS quadratic:\u00a0\u00a0\u00a0 β=0.59(2) [43%]"], "range": ["#f8c030", "#d05050", "#80d080", "#5050c8"]}, "legend": {"orient": "none", "legendX": 17, "legendY": 2, "symbolType": "M-1,-0.55H1V0.55H-1Z", "symbolSize": 441, "symbolOpacity": 0.45, "symbolStrokeWidth": 0, "labelFontSize": 14.5, "labelExpr": "''", "labelOffset": 0, "rowPadding": 2.1, "title": null}}}},
                {"data": {"name": "b43_fit"}, "mark": {"type": "line", "strokeWidth": 1.5},
                 "encoding": {
                  "x": {"field": "x", "type": "quantitative", "scale": {"domain": [0, 0.01774], "nice": false, "zero": false}, "axis": {"orient": "top", "values": [0, 0.005, 0.01, 0.015], "ticks": true, "tickSize": -6, "title": null}},
                  "y": {"field": "y", "type": "quantitative", "scale": {"domain": [0.25, 0.85], "nice": false, "zero": false}, "axis": {"orient": "right", "values": [0.3, 0.4, 0.5, 0.6, 0.7, 0.8], "ticks": true, "tickSize": -6, "title": null}},
                  "stroke": {"field": "f", "type": "nominal", "scale": {"domain": ["ZS linear:\u00a0 β=0.61(3) [79%]", "ZS quadratic:\u00a0\u00a0\u00a0 β=0.59(3) [86%]", "nZS linear:\u00a0 β=0.59(2) [50%]", "nZS quadratic:\u00a0\u00a0\u00a0 β=0.59(2) [43%]"], "range": ["#f5a500", "#e01010", "#30c030", "#1515c0"]}, "legend": {"orient": "none", "legendX": 17, "legendY": 2, "symbolType": "stroke", "symbolSize": 441, "symbolStrokeWidth": 1.5, "labelFontSize": 14.5, "labelOffset": 0, "rowPadding": 2.1, "title": null}},
                  "strokeDash": {"field": "f", "type": "nominal", "scale": {"domain": ["ZS linear:\u00a0 β=0.61(3) [79%]", "ZS quadratic:\u00a0\u00a0\u00a0 β=0.59(3) [86%]", "nZS linear:\u00a0 β=0.59(2) [50%]", "nZS quadratic:\u00a0\u00a0\u00a0 β=0.59(2) [43%]"], "range": [[1, 0], [1.5, 2.5], [5, 3], [9, 4]]}}}},
                {"data": {"name": "b43_pts"}, "mark": {"type": "rule", "strokeWidth": 1.3},
                 "encoding": {
                  "x": {"field": "x", "type": "quantitative", "scale": {"domain": [0, 0.01774], "nice": false, "zero": false}, "axis": {"orient": "top", "title": "N", "titleFontSize": 16, "titleX": 514, "titleY": 26, "titleAngle": 0, "titleAlign": "right", "titleBaseline": "alphabetic"}},
                  "y": {"field": "lo", "type": "quantitative", "scale": {"domain": [0.25, 0.85], "nice": false, "zero": false}, "axis": {"orient": "left", "title": "c,s", "titleFontSize": 16, "titleX": -62, "titleY": 168, "titleAngle": -90, "titleAlign": "left", "titleBaseline": "alphabetic"}},
                  "y2": {"field": "hi"},
                  "color": {"field": "f", "type": "nominal", "scale": {"domain": ["ZS", "nZS"], "range": ["#e00000", "#0000e0"]}, "legend": null}}},
                {"data": {"name": "b43_pts"}, "mark": {"type": "tick", "orient": "horizontal", "size": 7, "thickness": 1.3},
                 "encoding": {
                  "x": {"field": "x", "type": "quantitative", "scale": {"domain": [0, 0.01774], "nice": false, "zero": false}, "axis": {"orient": "top", "title": "f", "titleFontSize": 11, "titleX": 518, "titleY": 30, "titleAngle": 0, "titleAlign": "right", "titleBaseline": "alphabetic"}},
                  "y": {"field": "lo", "type": "quantitative", "scale": {"domain": [0.25, 0.85], "nice": false, "zero": false}, "axis": {"orient": "left", "title": "(g", "titleFontSize": 24, "titleX": -68, "titleY": 143, "titleAngle": -90, "titleAlign": "left", "titleBaseline": "alphabetic"}},
                  "color": {"field": "f", "type": "nominal", "scale": {"domain": ["ZS", "nZS"], "range": ["#e00000", "#0000e0"]}, "legend": null}}},
                {"data": {"name": "b43_pts"}, "mark": {"type": "tick", "orient": "horizontal", "size": 7, "thickness": 1.3},
                 "encoding": {
                  "x": {"field": "x", "type": "quantitative", "scale": {"domain": [0, 0.01774], "nice": false, "zero": false}, "axis": {"orient": "top", "title": ["=8", "c=0.275", "s=2"], "titleFontSize": 16, "titleLineHeight": 21, "titleX": 536, "titleY": 26, "titleAngle": 0, "titleAlign": "right", "titleBaseline": "alphabetic"}},
                  "y": {"field": "hi", "type": "quantitative", "scale": {"domain": [0.25, 0.85], "nice": false, "zero": false}, "axis": {"orient": "left", "title": "2", "titleFontSize": 16, "titleX": -78, "titleY": 122, "titleAngle": -90, "titleAlign": "left", "titleBaseline": "alphabetic"}},
                  "color": {"field": "f", "type": "nominal", "scale": {"domain": ["ZS", "nZS"], "range": ["#e00000", "#0000e0"]}, "legend": null}}},
                {"data": {"name": "b43_pts"}, "mark": {"type": "point", "shape": "M-1,-1L1,1M-1,1L1,-1", "size": 25, "strokeWidth": 1.2, "filled": false, "opacity": 1},
                 "encoding": {
                  "x": {"field": "x", "type": "quantitative", "scale": {"domain": [0, 0.01774], "nice": false, "zero": false}, "axis": {"orient": "bottom", "title": "(a/L)", "titleFontSize": 19, "titleX": 250, "titleY": 56, "titleAngle": 0, "titleAlign": "left", "titleBaseline": "alphabetic"}},
                  "y": {"field": "y", "type": "quantitative", "scale": {"domain": [0.25, 0.85], "nice": false, "zero": false}, "axis": {"orient": "left", "title": "c", "titleFontSize": 16, "titleX": -62, "titleY": 122, "titleAngle": -90, "titleAlign": "left", "titleBaseline": "alphabetic"}},
                  "color": {"field": "f", "type": "nominal", "scale": {"domain": ["ZS", "nZS"], "range": ["#e00000", "#0000e0"]}, "legend": null}}},
                {"data": {"name": "b43_pts"}, "mark": {"type": "point", "opacity": 0},
                 "encoding": {
                  "x": {"field": "x", "type": "quantitative", "scale": {"domain": [0, 0.01774], "nice": false, "zero": false}, "axis": {"orient": "bottom", "title": "2", "titleFontSize": 14, "titleX": 303, "titleY": 43, "titleAngle": 0, "titleAlign": "left", "titleBaseline": "alphabetic"}},
                  "y": {"field": "y", "type": "quantitative", "scale": {"domain": [0.25, 0.85], "nice": false, "zero": false}, "axis": {"orient": "left", "title": "=4.3)", "titleFontSize": 24, "titleX": -68, "titleY": 112, "titleAngle": -90, "titleAlign": "left", "titleBaseline": "alphabetic"}}}}
              ]
            },
            {
              "width": 546, "height": 204,
              "resolve": {"scale": {"color": "independent", "fill": "independent", "stroke": "independent", "strokeDash": "independent", "shape": "independent"}, "axis": {"x": "independent", "y": "independent"}},
              "layer": [
                {"data": {"name": "b90_fit"}, "mark": {"type": "area", "opacity": 0.4},
                 "encoding": {
                  "x": {"field": "x", "type": "quantitative", "scale": {"domain": [0, 0.01774], "nice": false, "zero": false}, "axis": {"orient": "bottom", "values": [0, 0.005, 0.01, 0.015], "format": "~g", "labels": true, "labelFontSize": 17, "labelPadding": 16, "ticks": true, "tickSize": -6, "title": null}},
                  "y": {"field": "lo", "type": "quantitative", "scale": {"domain": [0.8, 2.875], "nice": false, "zero": false}, "axis": {"orient": "left", "values": [1.0, 1.5, 2.0, 2.5], "format": ".2f", "labels": true, "labelFontSize": 17, "ticks": true, "tickSize": -6, "labelPadding": 17, "title": "β", "titleFont": "Liberation Serif", "titleFontStyle": "italic", "titleFontSize": 24, "titleX": -68, "titleY": 182, "titleAngle": -90, "titleAlign": "left", "titleBaseline": "alphabetic"}},
                  "y2": {"field": "hi"},
                  "fill": {"field": "f", "type": "nominal", "scale": {"domain": ["ZS linear:\u00a0 β=1.94(6) [40%]", "ZS quadratic:\u00a0\u00a0\u00a0 β=1.99(7) [10%]", "nZS linear:\u00a0 β=1.89(6) [58%]", "nZS quadratic:\u00a0\u00a0\u00a0 β=2.04(7) [27%]"], "range": ["#f8c030", "#d05050", "#80d080", "#5050c8"]}, "legend": {"orient": "none", "legendX": 17, "legendY": 5, "symbolType": "M-1,-0.55H1V0.55H-1Z", "symbolSize": 441, "symbolOpacity": 0.45, "symbolStrokeWidth": 0, "labelFontSize": 14.5, "labelExpr": "''", "labelOffset": 0, "rowPadding": 2.1, "title": null}}}},
                {"data": {"name": "b90_fit"}, "mark": {"type": "line", "strokeWidth": 1.5},
                 "encoding": {
                  "x": {"field": "x", "type": "quantitative", "scale": {"domain": [0, 0.01774], "nice": false, "zero": false}, "axis": {"orient": "top", "values": [0, 0.005, 0.01, 0.015], "ticks": true, "tickSize": -6, "title": null}},
                  "y": {"field": "y", "type": "quantitative", "scale": {"domain": [0.8, 2.875], "nice": false, "zero": false}, "axis": {"orient": "right", "values": [1.0, 1.5, 2.0, 2.5], "ticks": true, "tickSize": -6, "title": null}},
                  "stroke": {"field": "f", "type": "nominal", "scale": {"domain": ["ZS linear:\u00a0 β=1.94(6) [40%]", "ZS quadratic:\u00a0\u00a0\u00a0 β=1.99(7) [10%]", "nZS linear:\u00a0 β=1.89(6) [58%]", "nZS quadratic:\u00a0\u00a0\u00a0 β=2.04(7) [27%]"], "range": ["#f5a500", "#e01010", "#30c030", "#1515c0"]}, "legend": {"orient": "none", "legendX": 17, "legendY": 5, "symbolType": "stroke", "symbolSize": 441, "symbolStrokeWidth": 1.5, "labelFontSize": 14.5, "labelOffset": 0, "rowPadding": 2.1, "title": null}},
                  "strokeDash": {"field": "f", "type": "nominal", "scale": {"domain": ["ZS linear:\u00a0 β=1.94(6) [40%]", "ZS quadratic:\u00a0\u00a0\u00a0 β=1.99(7) [10%]", "nZS linear:\u00a0 β=1.89(6) [58%]", "nZS quadratic:\u00a0\u00a0\u00a0 β=2.04(7) [27%]"], "range": [[1, 0], [1.5, 2.5], [5, 3], [9, 4]]}}}},
                {"data": {"name": "b90_pts"}, "mark": {"type": "rule", "strokeWidth": 1.3},
                 "encoding": {
                  "x": {"field": "x", "type": "quantitative", "scale": {"domain": [0, 0.01774], "nice": false, "zero": false}, "axis": {"orient": "top", "title": "N", "titleFontSize": 16, "titleX": 514, "titleY": 26, "titleAngle": 0, "titleAlign": "right", "titleBaseline": "alphabetic"}},
                  "y": {"field": "lo", "type": "quantitative", "scale": {"domain": [0.8, 2.875], "nice": false, "zero": false}, "axis": {"orient": "left", "title": "c,s", "titleFontSize": 16, "titleX": -62, "titleY": 168, "titleAngle": -90, "titleAlign": "left", "titleBaseline": "alphabetic"}},
                  "y2": {"field": "hi"},
                  "color": {"field": "f", "type": "nominal", "scale": {"domain": ["ZS", "nZS"], "range": ["#e00000", "#0000e0"]}, "legend": null}}},
                {"data": {"name": "b90_pts"}, "mark": {"type": "tick", "orient": "horizontal", "size": 7, "thickness": 1.3},
                 "encoding": {
                  "x": {"field": "x", "type": "quantitative", "scale": {"domain": [0, 0.01774], "nice": false, "zero": false}, "axis": {"orient": "top", "title": "f", "titleFontSize": 11, "titleX": 518, "titleY": 30, "titleAngle": 0, "titleAlign": "right", "titleBaseline": "alphabetic"}},
                  "y": {"field": "lo", "type": "quantitative", "scale": {"domain": [0.8, 2.875], "nice": false, "zero": false}, "axis": {"orient": "left", "title": "(g", "titleFontSize": 24, "titleX": -68, "titleY": 143, "titleAngle": -90, "titleAlign": "left", "titleBaseline": "alphabetic"}},
                  "color": {"field": "f", "type": "nominal", "scale": {"domain": ["ZS", "nZS"], "range": ["#e00000", "#0000e0"]}, "legend": null}}},
                {"data": {"name": "b90_pts"}, "mark": {"type": "tick", "orient": "horizontal", "size": 7, "thickness": 1.3},
                 "encoding": {
                  "x": {"field": "x", "type": "quantitative", "scale": {"domain": [0, 0.01774], "nice": false, "zero": false}, "axis": {"orient": "top", "title": ["=8", "c=0.275", "s=2"], "titleFontSize": 16, "titleLineHeight": 21, "titleX": 536, "titleY": 26, "titleAngle": 0, "titleAlign": "right", "titleBaseline": "alphabetic"}},
                  "y": {"field": "hi", "type": "quantitative", "scale": {"domain": [0.8, 2.875], "nice": false, "zero": false}, "axis": {"orient": "left", "title": "2", "titleFontSize": 16, "titleX": -78, "titleY": 122, "titleAngle": -90, "titleAlign": "left", "titleBaseline": "alphabetic"}},
                  "color": {"field": "f", "type": "nominal", "scale": {"domain": ["ZS", "nZS"], "range": ["#e00000", "#0000e0"]}, "legend": null}}},
                {"data": {"name": "b90_pts"}, "mark": {"type": "point", "shape": "M-1,-1L1,1M-1,1L1,-1", "size": 25, "strokeWidth": 1.2, "filled": false, "opacity": 1},
                 "encoding": {
                  "x": {"field": "x", "type": "quantitative", "scale": {"domain": [0, 0.01774], "nice": false, "zero": false}, "axis": {"orient": "bottom", "title": "(a/L)", "titleFontSize": 19, "titleX": 250, "titleY": 56, "titleAngle": 0, "titleAlign": "left", "titleBaseline": "alphabetic"}},
                  "y": {"field": "y", "type": "quantitative", "scale": {"domain": [0.8, 2.875], "nice": false, "zero": false}, "axis": {"orient": "left", "title": "c", "titleFontSize": 16, "titleX": -62, "titleY": 122, "titleAngle": -90, "titleAlign": "left", "titleBaseline": "alphabetic"}},
                  "color": {"field": "f", "type": "nominal", "scale": {"domain": ["ZS", "nZS"], "range": ["#e00000", "#0000e0"]}, "legend": null}}},
                {"data": {"name": "b90_pts"}, "mark": {"type": "point", "opacity": 0},
                 "encoding": {
                  "x": {"field": "x", "type": "quantitative", "scale": {"domain": [0, 0.01774], "nice": false, "zero": false}, "axis": {"orient": "bottom", "title": "2", "titleFontSize": 14, "titleX": 303, "titleY": 43, "titleAngle": 0, "titleAlign": "left", "titleBaseline": "alphabetic"}},
                  "y": {"field": "y", "type": "quantitative", "scale": {"domain": [0.8, 2.875], "nice": false, "zero": false}, "axis": {"orient": "left", "title": "=9.0)", "titleFontSize": 24, "titleX": -68, "titleY": 112, "titleAngle": -90, "titleAlign": "left", "titleBaseline": "alphabetic"}}}}
              ]
            }
          ]
        }
      ]
    }
  ]
}
